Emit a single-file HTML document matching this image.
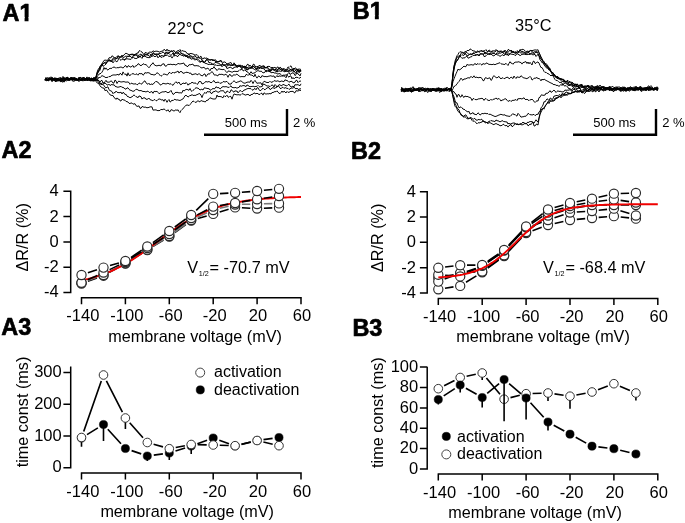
<!DOCTYPE html>
<html lang="en">
<head>
<meta charset="utf-8">
<title>Figure</title>
<style>
html,body{margin:0;padding:0;background:#fff;}
body{width:685px;height:523px;overflow:hidden;}
svg{display:block;font-family:"Liberation Sans",Arial,Helvetica,sans-serif;fill:#111;}
svg text{fill:#000;}
</style>
</head>
<body>
<svg width="685" height="523" viewBox="0 0 685 523">
<rect x="0" y="0" width="685" height="523" fill="#fff"/>
<g fill="none" stroke="#000" stroke-width="0.95" stroke-linejoin="round">
<polyline points="45,79.2 46,78.9 47,79.9 48,80.3 49,79.2 50,79.1 51,79.9 52,80.2 53,79.9 54,79.5 55,79.9 56,80 57,78.4 58,78.7 59,77.8 60,77.9 61,77.8 62,78.8 63,78.8 64,79.7 65,79.7 66,78.9 67,77.1 68,78.6 69,79.3 70,79 71,77.8 72,78.3 73,78.3 74,78.4 75,79.5 76,78.3 77,79 78,79.5 79,78.6 80,79.4 81,79.7 82,79.5 83,78.5 84,79.8 85,80.3 86,78.2 87,80.1 88,79.8 89,79.4 90,81.1 91,80.5 92,78.4 93,78.6 94,79.5 95,78.9 96,77.3 97,73.2 98,71 99,69.5 100,66.3 101,65.2 102,63.5 103,62.1 104,60.4 105,60.2 106,60.1 107,60.5 108,60 109,57.8 110,57.7 111,57.9 112,55.7 113,56.6 114,57.2 115,58.2 116,57.5 117,56.3 118,56 119,56.5 120,57.7 121,56.2 122,55.5 123,55.9 124,55 125,53.8 126,53.1 127,53.8 128,54.1 129,54.8 130,54.7 131,54.2 132,54.3 133,54 134,54.8 135,54.3 136,54 137,52.8 138,53.3 139,51 140,50.5 141,51.6 142,52 143,53.3 144,54.9 145,52.7 146,52.5 147,53.4 148,53.3 149,52.4 150,51.9 151,52.4 152,52.1 153,50.8 154,51.4 155,51.7 156,50.8 157,51.6 158,51 159,52.3 160,51.8 161,51.4 162,51.2 163,50.9 164,49.3 165,50 166,51.1 167,49.1 168,50.9 169,50 170,51.7 171,50.8 172,51.6 173,51.1 174,50.3 175,52.2 176,52.5 177,51.1 178,50.7 179,50.5 180,49.5 181,51.5 182,50.4 183,51.1 184,51.1 185,51.5 186,51.8 187,53.6 188,53.7 189,54.3 190,53.6 191,53.4 192,53.8 193,53.9 194,54.6 195,55 196,55 197,54.6 198,55.7 199,57.8 200,56.7 201,56.2 202,58.4 203,59.2 204,57.6 205,58.5 206,58.1 207,58 208,59.7 209,60 210,60 211,59.6 212,60.6 213,60.2 214,60.6 215,59.7 216,60.2 217,62.1 218,61.5 219,61.7 220,61.1 221,61.1 222,61.6 223,62.6 224,61.8 225,62.1 226,62.8 227,64 228,63.5 229,63.3 230,62.8 231,62.5 232,64.8 233,64.9 234,64.1 235,64.5 236,65.2 237,65.6 238,65.5 239,65 240,66.4 241,65.3 242,66.6 243,66.7 244,66.9 245,67.7 246,66.9 247,64.7 248,64.1 249,65.9 250,65.2 251,66.1 252,67.2 253,64.5 254,64.1 255,66.1 256,66.9 257,66.6 258,66.4 259,65.9 260,65.2 261,66.7 262,66.1 263,66 264,67.6 265,67.6 266,67.8 267,66.6 268,66.4 269,66.4 270,66.6 271,67.8 272,67.5 273,68.7 274,69.6 275,70.5 276,68.4 277,69.7 278,69.2 279,68.5 280,67.1 281,67.8 282,69.2 283,68.8 284,68.9 285,69 286,69.9 287,68.8 288,66.9 289,67.5 290,66.5 291,65.8 292,68.1 293,70.2 294,69.1 295,67.9 296,68.2 297,69.4 298,69.3 299,69 300,69.2 301,69.5"/>
<polyline points="45,79.4 46,80.8 47,80.6 48,79.2 49,77.7 50,79.6 51,78.9 52,77.3 53,79.1 54,78.5 55,78.4 56,79.1 57,81 58,80 59,80.5 60,81.6 61,81.6 62,80.4 63,79.2 64,77.9 65,78.4 66,79.5 67,79.6 68,79.5 69,80.1 70,79.4 71,79.6 72,80.6 73,81.1 74,81.3 75,80.6 76,79.9 77,80.7 78,79.2 79,78.3 80,79.9 81,79.9 82,79.7 83,77.9 84,78.8 85,78.8 86,78.2 87,76.9 88,78.6 89,80.1 90,79.5 91,78.6 92,79.2 93,79.4 94,77 95,78.4 96,77.5 97,74.6 98,72.8 99,70.3 100,67.9 101,66.7 102,65.6 103,63.6 104,62.5 105,63.3 106,63.3 107,61.4 108,60.8 109,60.4 110,61.1 111,60.1 112,60.4 113,58.2 114,58.1 115,57.8 116,58.6 117,58.3 118,56.1 119,56.1 120,57.2 121,56.6 122,55.7 123,57.3 124,57.3 125,56.6 126,55.9 127,56.6 128,55.9 129,56.6 130,54.7 131,54.5 132,54.8 133,54.7 134,56 135,55.2 136,54.3 137,55.2 138,55.1 139,55.6 140,54.2 141,54.3 142,55.7 143,56.6 144,56.3 145,54.3 146,54.2 147,55.3 148,54 149,53.3 150,54.3 151,54.7 152,54 153,52.6 154,53.1 155,54.4 156,53.7 157,54.2 158,53.8 159,53.9 160,53.2 161,53.7 162,52.5 163,52.1 164,52.5 165,54.2 166,53.3 167,52.5 168,52.1 169,52.5 170,52.5 171,50.9 172,50.9 173,51.7 174,54.5 175,53.1 176,52 177,52.2 178,53.1 179,51.5 180,51.4 181,53.1 182,53.6 183,54.1 184,54 185,56.2 186,56.6 187,55.9 188,55.4 189,53.9 190,55.9 191,55.8 192,56.6 193,57 194,56.4 195,55.6 196,57.3 197,57.3 198,57.4 199,58.1 200,58.2 201,58 202,60.8 203,60.9 204,61.8 205,62.3 206,60.6 207,58.8 208,59.1 209,59.1 210,60.1 211,60 212,59 213,60.4 214,59.7 215,61.3 216,61.6 217,61.7 218,61.6 219,61.3 220,60.9 221,60.3 222,62.3 223,64.5 224,65.5 225,64.9 226,64.7 227,64 228,65.2 229,64.7 230,64.8 231,65.1 232,65.4 233,65.1 234,65.4 235,64.7 236,65.6 237,67.6 238,66.5 239,66 240,66.6 241,66.9 242,65.5 243,66.1 244,66.8 245,66.6 246,66.9 247,68.1 248,67 249,67.1 250,67.1 251,68.4 252,66.3 253,66.2 254,66.5 255,68.1 256,68.8 257,69 258,66.7 259,67.9 260,67.5 261,66.6 262,67.4 263,66.2 264,65.6 265,67.4 266,67.4 267,68.4 268,69.5 269,70.3 270,70.9 271,68.8 272,67.3 273,67.7 274,67.8 275,67.1 276,68.3 277,67.6 278,66.8 279,69.1 280,68.8 281,69.5 282,70 283,70 284,69.9 285,70.5 286,70.1 287,70 288,69.3 289,68.3 290,69.3 291,69.8 292,69.7 293,69.4 294,72.1 295,71 296,69.5 297,69.5 298,71 299,71 300,70.2 301,70.8"/>
<polyline points="45,79.6 46,80 47,79.7 48,80.6 49,78.5 50,77.1 51,77.4 52,77.1 53,79.2 54,80 55,79.8 56,78 57,78.7 58,80.4 59,79.5 60,79.8 61,81 62,82.2 63,81.6 64,80.6 65,80.5 66,80.1 67,79 68,78.9 69,79.3 70,78.8 71,78.9 72,79.4 73,80.5 74,78.1 75,78.1 76,78.4 77,79.4 78,79.6 79,78.5 80,77.6 81,77.3 82,78.3 83,79.7 84,79.6 85,79.2 86,79.5 87,80.2 88,80 89,78.5 90,78.9 91,77.7 92,78.6 93,80.2 94,77.8 95,79.4 96,77 97,72.5 98,69.7 99,68.2 100,67 101,65.3 102,63.9 103,64 104,63.1 105,62.3 106,62.1 107,62.5 108,61.4 109,60.4 110,61 111,61.4 112,61.4 113,60.6 114,59.2 115,58.9 116,59.3 117,57.8 118,58.3 119,57.9 120,57.6 121,56.5 122,57.4 123,58.6 124,59.6 125,59.4 126,58.2 127,57.3 128,56.1 129,56.5 130,56.1 131,57 132,57.8 133,56.3 134,54.7 135,55.2 136,54.9 137,55.6 138,57.7 139,57.2 140,56 141,57.4 142,58.4 143,56.4 144,55.9 145,56.2 146,56.9 147,57.4 148,57.5 149,57.7 150,57.5 151,56.9 152,55.6 153,53.5 154,54.1 155,54.7 156,54.3 157,54.9 158,54.4 159,54.5 160,56.4 161,55.9 162,55.3 163,56.2 164,56 165,54.2 166,51.9 167,53.6 168,53.6 169,53.4 170,54.5 171,55.5 172,54.2 173,53 174,55.5 175,53.9 176,52.8 177,53.9 178,53.8 179,53.2 180,54.3 181,53.3 182,53.5 183,54.6 184,55.6 185,55.1 186,55 187,55.9 188,57.6 189,56 190,57.4 191,56.6 192,57.1 193,58.4 194,59.3 195,60.2 196,59.3 197,58.7 198,59.2 199,60.4 200,61.2 201,61.7 202,61.3 203,62.2 204,62.6 205,61.6 206,60 207,59.9 208,60.4 209,62.9 210,62.2 211,63.2 212,63.3 213,64.5 214,63.8 215,62.5 216,62.5 217,62.8 218,63.2 219,63.1 220,64.4 221,65.7 222,64 223,65.3 224,64.8 225,65.7 226,66.4 227,65.9 228,65.7 229,64.3 230,65.7 231,64.9 232,65.6 233,65.1 234,62.8 235,64.1 236,66.1 237,67.3 238,66.4 239,66.2 240,65.5 241,67.8 242,68.7 243,67.2 244,66.6 245,66 246,68.5 247,70.3 248,68.9 249,69.3 250,68.3 251,66.9 252,68.1 253,66.5 254,66.8 255,67.2 256,68.4 257,68.2 258,68.2 259,67.5 260,67.1 261,68.3 262,68.2 263,67.9 264,67.8 265,68.2 266,67.3 267,67.6 268,67.6 269,69 270,70 271,71.1 272,68.7 273,69.1 274,70 275,69.4 276,69.5 277,71.1 278,69.6 279,68.4 280,68.6 281,70.2 282,70.4 283,68.7 284,69.5 285,71.1 286,71.7 287,71 288,71.9 289,71.4 290,69.2 291,70.1 292,70.5 293,69.1 294,68 295,69.7 296,71.1 297,71.3 298,69.2 299,72.4 300,70.1 301,71.2"/>
<polyline points="45,77.7 46,78.2 47,77.7 48,77.9 49,78.5 50,79.4 51,80.1 52,80.2 53,78.9 54,78.4 55,78.7 56,79.5 57,78.5 58,80.5 59,79.7 60,79.5 61,80.5 62,80.8 63,80.4 64,80.4 65,80.2 66,81.1 67,80.6 68,79.9 69,80.7 70,79.6 71,78.4 72,77.5 73,78.6 74,79.3 75,77.9 76,79.5 77,79.7 78,79.1 79,77 80,78.4 81,79.4 82,78 83,78.1 84,77 85,79.1 86,79 87,79.2 88,78.3 89,80 90,79.8 91,79.9 92,78.4 93,79.3 94,81.3 95,79.1 96,77 97,74.3 98,71.8 99,71.5 100,70.1 101,66.4 102,64.5 103,66.3 104,65.8 105,64.8 106,64.1 107,62.3 108,61.2 109,59.8 110,59.9 111,61.6 112,61.2 113,62.9 114,61.5 115,60.4 116,61.3 117,61.9 118,60.1 119,58.4 120,59.5 121,60.4 122,59.2 123,59.1 124,60.3 125,59.8 126,58.9 127,58.8 128,58.9 129,59.2 130,59.2 131,59.4 132,58.4 133,56.7 134,57.9 135,58.6 136,58.3 137,58.6 138,57.1 139,56.4 140,57.2 141,55.3 142,54.5 143,56.8 144,55.9 145,55.7 146,54.4 147,55 148,54.9 149,56 150,56.5 151,55 152,56.7 153,55.4 154,56.1 155,56.9 156,56 157,55.5 158,57.9 159,56.5 160,56.4 161,57 162,57.5 163,56.5 164,56.8 165,55 166,56 167,54.6 168,55.6 169,56.8 170,55.9 171,56.3 172,58.1 173,56.6 174,55.3 175,56.2 176,55.1 177,56.6 178,56.4 179,54.7 180,54.4 181,55 182,55.5 183,55.5 184,56.4 185,55.1 186,56.1 187,57.1 188,57.6 189,58 190,57.6 191,59.1 192,59.1 193,58.3 194,57.9 195,58.4 196,59.5 197,59.5 198,60.7 199,61.7 200,62.1 201,62.1 202,61 203,60.9 204,62.4 205,63.1 206,63.6 207,63.6 208,64.5 209,64.4 210,64.2 211,64.5 212,64.4 213,64.4 214,64.8 215,65.3 216,64.7 217,65.8 218,65.1 219,65.6 220,65 221,64.8 222,66.8 223,65.4 224,64.6 225,65.3 226,66.4 227,68.7 228,67.9 229,67.9 230,67 231,67.5 232,68.3 233,68.9 234,67.1 235,67.5 236,66.6 237,66 238,66.3 239,66.2 240,64.8 241,67.5 242,68.3 243,67.4 244,67.1 245,69 246,68.8 247,68.9 248,69.1 249,67.9 250,68.4 251,68 252,68.1 253,68.3 254,69.1 255,70.1 256,69.7 257,69.1 258,69 259,69 260,68 261,67.9 262,68.4 263,68.4 264,69 265,69.9 266,71.7 267,71.6 268,70.5 269,70.7 270,72 271,70.3 272,69.6 273,69.7 274,70.2 275,71.3 276,70.8 277,72.2 278,70.8 279,71.4 280,70.6 281,71.8 282,70.6 283,70.9 284,71.5 285,71.8 286,70.2 287,70.2 288,69.9 289,70.8 290,71.3 291,71 292,70.9 293,70.7 294,71 295,72.6 296,73.2 297,70.9 298,71.4 299,72.1 300,72.1 301,70.6"/>
<polyline points="45,79.2 46,79.7 47,80.1 48,78.7 49,80.2 50,79.4 51,78.8 52,79.5 53,78.8 54,78.3 55,77.7 56,78.5 57,80.7 58,81.3 59,80.4 60,80.3 61,78.9 62,78.8 63,79.4 64,78.5 65,78.5 66,79.5 67,79.2 68,78.8 69,79.7 70,79.3 71,80.1 72,79.2 73,79.2 74,79.8 75,79.4 76,79.5 77,79.9 78,81 79,81.2 80,80.9 81,79.2 82,79.5 83,79.6 84,80.2 85,79.5 86,79.4 87,79.3 88,79 89,78.6 90,80.3 91,80.5 92,79.7 93,80.9 94,80.2 95,80.9 96,79 97,76.9 98,75.5 99,74.1 100,73.8 101,73.2 102,72.2 103,70.3 104,67.5 105,69.3 106,67.9 107,69.6 108,70.1 109,69 110,68.2 111,68.5 112,68.2 113,67.2 114,67.2 115,67.2 116,68.3 117,67.3 118,68 119,67.4 120,67.3 121,66.9 122,67.5 123,68 124,67.2 125,65.7 126,65.8 127,67.5 128,65.9 129,65.8 130,67 131,67 132,66.2 133,65.5 134,67.5 135,66.3 136,65.9 137,65.4 138,63.8 139,63.9 140,65.4 141,65.5 142,65.1 143,64 144,63.8 145,64.9 146,64.3 147,65.8 148,66.8 149,67.8 150,66.4 151,64.7 152,64.2 153,62.7 154,64.5 155,65.2 156,65.8 157,65.8 158,65.5 159,65.3 160,65.5 161,66 162,64.2 163,64.1 164,63.7 165,66 166,66.2 167,65.5 168,64.1 169,64.7 170,64.2 171,64.3 172,64.6 173,64.7 174,64.1 175,64.9 176,64.9 177,64.3 178,63.5 179,63.6 180,64.2 181,63.5 182,63.8 183,63.1 184,63.2 185,65.4 186,65.1 187,66.7 188,66.3 189,64.7 190,64.8 191,64.7 192,64.3 193,64.1 194,65.9 195,65.6 196,65.9 197,65.4 198,66.2 199,65.8 200,66.8 201,67.9 202,67.8 203,67.7 204,67.1 205,68.7 206,69.1 207,68.4 208,68.1 209,69.5 210,70.9 211,68.5 212,68.6 213,68.4 214,66.6 215,68.5 216,68.9 217,70.6 218,69.3 219,68.6 220,69.3 221,69.3 222,69.6 223,69.6 224,69.3 225,70.3 226,71.7 227,72.7 228,71.2 229,71 230,71.5 231,71.7 232,72.3 233,71.8 234,71.2 235,71.4 236,71.4 237,71.5 238,71.4 239,70.6 240,69.5 241,70.1 242,69.1 243,70.8 244,70.7 245,69.6 246,71.2 247,71.8 248,72.2 249,73.7 250,73.5 251,71.7 252,73.3 253,73.4 254,72.9 255,72.9 256,71.5 257,70.9 258,70.7 259,70.9 260,71.5 261,71 262,71.7 263,73 264,72.5 265,72.2 266,70.2 267,70.7 268,71.1 269,71.5 270,71.7 271,72.8 272,72.5 273,72.4 274,72.7 275,73.3 276,72.8 277,73.9 278,74 279,73.6 280,73.7 281,74.5 282,75.6 283,75.3 284,75 285,75.4 286,74.7 287,75 288,73.6 289,72.5 290,74.4 291,74 292,72.8 293,73.1 294,73.3 295,75.6 296,74.7 297,72.5 298,74.2 299,74.5 300,76 301,73.3"/>
<polyline points="45,80.5 46,79.3 47,78.5 48,79.2 49,78.3 50,78.8 51,78.7 52,81.8 53,80.6 54,79 55,78.8 56,79.2 57,78.7 58,78.7 59,78.8 60,80.1 61,79.1 62,78.3 63,77.7 64,78.2 65,79.5 66,79.4 67,79.9 68,79.4 69,80.5 70,80 71,79 72,77.2 73,78.2 74,79.9 75,80.5 76,79.8 77,80.1 78,79.1 79,79 80,79 81,80.7 82,80.2 83,79.6 84,80 85,80.4 86,79.8 87,78.5 88,80.4 89,79.7 90,79.3 91,80.7 92,80.8 93,80.2 94,80.2 95,78.9 96,78.5 97,77.4 98,78.9 99,77 100,77.9 101,76.5 102,75.6 103,76.1 104,76.5 105,77.1 106,77.8 107,77.2 108,77.4 109,76.4 110,76.8 111,75.9 112,75.3 113,75 114,74.9 115,75 116,75 117,74.6 118,74.4 119,75.2 120,73.4 121,73.8 122,75.2 123,71.9 124,73.5 125,74.7 126,73.8 127,76.1 128,72.8 129,75.3 130,75.4 131,74.7 132,73.6 133,74 134,73.7 135,74.8 136,73.8 137,74.2 138,75.2 139,73.5 140,73.6 141,73.8 142,73.5 143,75.2 144,74.4 145,72.5 146,73.1 147,72.9 148,72.5 149,73 150,73.2 151,74.8 152,74.1 153,75 154,74.7 155,75 156,73.7 157,72.8 158,73.1 159,74.4 160,75.2 161,76.2 162,75.6 163,74.6 164,73.8 165,74.4 166,74.4 167,75.2 168,74.4 169,72.6 170,72.5 171,73.7 172,73 173,72.2 174,73.2 175,72.3 176,72.3 177,71.7 178,71 179,73.1 180,71.7 181,71.5 182,71.8 183,73.4 184,73 185,72.9 186,71.9 187,72.8 188,72.1 189,73.3 190,73.1 191,73.2 192,75 193,74.3 194,74.3 195,73.8 196,73.8 197,74.6 198,74.7 199,73.4 200,74.7 201,75.3 202,75.8 203,75.6 204,74 205,74 206,76.6 207,75.2 208,73.7 209,74.2 210,73.7 211,72.3 212,71.7 213,72.6 214,74.8 215,75.1 216,74.8 217,75.6 218,75.8 219,74.1 220,74.5 221,74.3 222,74.3 223,74.6 224,75.2 225,74.6 226,74.2 227,75.3 228,77.3 229,75 230,74.2 231,76 232,76.2 233,75.8 234,74.4 235,75.5 236,74.3 237,74.2 238,75.1 239,75.8 240,76.7 241,76.8 242,76.4 243,76.8 244,76.5 245,76.7 246,74.5 247,74.4 248,75.5 249,74.3 250,74.8 251,75 252,75.1 253,75.9 254,76.8 255,74.2 256,76.6 257,78.1 258,76.4 259,75.9 260,77.3 261,77.6 262,75.5 263,76.2 264,76.4 265,76.8 266,76.3 267,77 268,76.2 269,76.3 270,75.8 271,75.8 272,76.3 273,76.2 274,75.9 275,77.9 276,76.7 277,75.5 278,77 279,75.7 280,76.4 281,76 282,76 283,76.1 284,75.8 285,76.4 286,77.8 287,75.1 288,76.5 289,77.2 290,75.8 291,76.2 292,78.8 293,77.5 294,78.9 295,77.9 296,77.1 297,77.5 298,77.4 299,78.5 300,77.7 301,77.2"/>
<polyline points="45,80.3 46,79.7 47,79.8 48,79.9 49,79.2 50,80.1 51,79.3 52,80.6 53,80.3 54,80.2 55,80 56,80.2 57,79.5 58,80.4 59,80.2 60,80.7 61,80.6 62,80.6 63,78 64,78.7 65,77.4 66,78.9 67,77 68,77.7 69,78.2 70,80.4 71,79.3 72,79.6 73,79 74,77.1 75,78.5 76,79.6 77,79 78,79.8 79,79.2 80,79.7 81,79.4 82,79.9 83,81.2 84,80.2 85,79.6 86,78.6 87,78.4 88,80.2 89,78.4 90,78.4 91,79 92,79.6 93,81.4 94,78.6 95,80.5 96,80.7 97,79.3 98,79.8 99,81.1 100,82.2 101,80.6 102,80.4 103,82.9 104,83.7 105,81.7 106,80.3 107,82.2 108,81.9 109,82.4 110,81.6 111,80.9 112,81.4 113,83.2 114,82.9 115,80 116,80.8 117,83.5 118,81.7 119,81 120,81.8 121,81.9 122,82 123,81.6 124,81.7 125,81.9 126,82.3 127,81.9 128,82.1 129,82.5 130,84.3 131,83.3 132,83.2 133,84.1 134,83.8 135,84.1 136,83.7 137,84.8 138,84.4 139,83.1 140,83.2 141,84.3 142,83.5 143,82.8 144,81.2 145,80.9 146,82.9 147,83.7 148,84.3 149,83.2 150,84.9 151,83.9 152,84.3 153,84.4 154,83 155,82.3 156,81.2 157,82 158,82.1 159,83.8 160,84.4 161,85.2 162,84.1 163,83.2 164,83.6 165,83.7 166,84 167,83.6 168,83.1 169,84 170,84.1 171,83.7 172,84.7 173,85.4 174,83.9 175,82.7 176,81.7 177,83.1 178,83.1 179,82 180,84.2 181,85 182,83.5 183,83.5 184,82.9 185,84 186,82.4 187,83.4 188,85.2 189,83.7 190,84.1 191,83.1 192,82.2 193,82.8 194,83.3 195,82.9 196,83.3 197,84.4 198,83.8 199,81.5 200,81.6 201,81.7 202,84 203,83.5 204,83.3 205,82.1 206,81.4 207,82 208,81.9 209,81.4 210,82.2 211,82.7 212,82.4 213,81.2 214,80.5 215,82.4 216,82.8 217,82.3 218,82.2 219,82.4 220,83.5 221,82.9 222,82.8 223,81.7 224,81.5 225,82.2 226,81.5 227,81.5 228,82.7 229,84.3 230,83.8 231,84.2 232,82.7 233,81.6 234,80.8 235,81.5 236,82.9 237,82.2 238,81.9 239,81.7 240,81 241,80.9 242,81.7 243,82.6 244,83.1 245,83.2 246,82.8 247,82.1 248,82.2 249,81.9 250,82.3 251,80.3 252,81.5 253,83.6 254,81.5 255,80.4 256,82 257,83.5 258,82.8 259,83.2 260,82.8 261,82.9 262,85.1 263,82.7 264,81.3 265,81.5 266,82.3 267,82.4 268,82.6 269,82.3 270,81.3 271,82.4 272,82 273,81.8 274,80.7 275,80.8 276,81.3 277,81.1 278,80.7 279,81.6 280,81.8 281,81.1 282,81 283,81.5 284,81.6 285,79.7 286,80.5 287,80.4 288,81.2 289,82.3 290,81.5 291,81.5 292,81.3 293,82.9 294,82.6 295,82.2 296,80.3 297,80.4 298,82.6 299,81.5 300,81 301,81.2"/>
<polyline points="45,80.1 46,78 47,79.2 48,80.9 49,79.3 50,79.2 51,79.5 52,78.4 53,79.3 54,80.4 55,79.7 56,79.4 57,78.3 58,78.7 59,78.6 60,79 61,78.7 62,77.7 63,76.4 64,79 65,79.8 66,78.4 67,77.3 68,77.8 69,79.5 70,77.8 71,77.7 72,79 73,79.3 74,78.5 75,78.2 76,78.5 77,80.3 78,80 79,78.8 80,77.6 81,78.2 82,79.2 83,78.5 84,79.5 85,79.8 86,79.9 87,80.2 88,80.2 89,79.2 90,79.6 91,80.7 92,78.5 93,78.9 94,79.8 95,79.1 96,79 97,79.8 98,81.6 99,82.9 100,83.5 101,83.2 102,83.6 103,82.3 104,83.3 105,83 106,83.9 107,84.7 108,85.2 109,84.1 110,85.6 111,84.9 112,84.3 113,85.2 114,84.6 115,86.2 116,86.7 117,86.9 118,87.4 119,86.8 120,86.9 121,86.2 122,87.5 123,87.2 124,88.1 125,88.8 126,89.2 127,87.9 128,87.9 129,89.3 130,90.2 131,90.3 132,90.9 133,91.4 134,91 135,90.4 136,89.2 137,89.4 138,89.9 139,90.7 140,90.6 141,90.5 142,91 143,91.6 144,91.4 145,91.6 146,92 147,91.4 148,91.1 149,92.3 150,92.6 151,91.7 152,91.7 153,93.3 154,91.3 155,91.5 156,91.7 157,91.2 158,92.4 159,93.7 160,93.1 161,92.4 162,92.1 163,91.7 164,92.1 165,91.5 166,91.5 167,92.3 168,92.8 169,92.2 170,91.7 171,90.4 172,92.6 173,94.4 174,94.1 175,92.7 176,92.3 177,92.5 178,92.3 179,93.2 180,92.5 181,93.1 182,92.8 183,90.2 184,91.1 185,90.2 186,89.4 187,89.4 188,89.8 189,90.3 190,88.5 191,90.7 192,91.4 193,90.3 194,89.7 195,88.5 196,87.7 197,88 198,88.2 199,88.9 200,90.1 201,89.4 202,89.2 203,90.1 204,88.1 205,87.7 206,88.4 207,88.2 208,88.8 209,88.5 210,90 211,90.2 212,89.1 213,88.4 214,88.9 215,88.5 216,86.7 217,87.6 218,87.7 219,87.6 220,89 221,88.3 222,86.9 223,86.8 224,86.5 225,87.1 226,86.3 227,87.2 228,87.1 229,87.6 230,86.5 231,85.8 232,87.6 233,87.3 234,88 235,87.4 236,87.6 237,88.3 238,87.5 239,87.5 240,85.5 241,86.4 242,85.9 243,85.6 244,85.6 245,85.9 246,86.7 247,84.8 248,85.7 249,85.9 250,87 251,86.3 252,86.7 253,86 254,86.7 255,86.7 256,86.3 257,86.4 258,85.4 259,86.4 260,87.3 261,86.4 262,86.8 263,84.5 264,84 265,84.8 266,85.3 267,86.1 268,85.9 269,86 270,86.7 271,85.6 272,85 273,85.3 274,87.2 275,84.5 276,85.5 277,87 278,86 279,84.6 280,84.9 281,85.6 282,85.7 283,84.2 284,85 285,85 286,85.9 287,85.8 288,84.8 289,84.1 290,86 291,87.2 292,86.6 293,86.1 294,86.9 295,84.5 296,85.1 297,84.6 298,84.8 299,85.1 300,85.8 301,83.8"/>
<polyline points="45,79.9 46,78.8 47,79.1 48,80.9 49,80.6 50,79.4 51,79.4 52,79.9 53,77.9 54,79.1 55,81.5 56,81.5 57,79.8 58,80.6 59,79.6 60,78.5 61,77.9 62,80.7 63,80.8 64,82.2 65,80.7 66,79.8 67,78.3 68,80.3 69,79.2 70,79 71,77.7 72,79.8 73,80.1 74,78.8 75,79.2 76,79.3 77,79.6 78,80.1 79,80.9 80,79.5 81,78.7 82,78.2 83,77.2 84,77.8 85,79.5 86,78.9 87,78.1 88,78.8 89,77 90,78.7 91,80.3 92,80.2 93,79.3 94,80.3 95,80.9 96,80.1 97,81 98,80.2 99,80.6 100,83.8 101,84.3 102,84.7 103,84.5 104,85.3 105,87.2 106,88.1 107,87 108,86.9 109,89.7 110,90.6 111,90.9 112,91.6 113,93.7 114,92.5 115,92.8 116,91.1 117,92.2 118,92.6 119,92.6 120,92.7 121,92.1 122,94 123,92.3 124,92.9 125,94.6 126,94.2 127,96.1 128,96.8 129,96.8 130,98 131,97.1 132,97 133,95.7 134,94.9 135,95.7 136,96.7 137,96.9 138,97.8 139,95.9 140,96.3 141,96.7 142,99.1 143,97.9 144,98 145,97.8 146,99.4 147,99.1 148,99.1 149,98.1 150,99.7 151,99.9 152,100.4 153,100.8 154,99.6 155,99.7 156,100.7 157,100.7 158,99.4 159,99.1 160,98.9 161,99.8 162,100 163,99.7 164,101.3 165,99.2 166,100.3 167,102.3 168,100.5 169,99.5 170,102 171,101.6 172,100 173,100.8 174,99.6 175,99.2 176,100.1 177,99.9 178,99.9 179,100.4 180,100.4 181,100.1 182,99.3 183,99 184,97.4 185,95.7 186,95.3 187,96 188,97 189,96.5 190,95.2 191,95.8 192,94.4 193,95.7 194,95.2 195,95.5 196,95.2 197,94.5 198,94.4 199,93.5 200,93.8 201,95.2 202,97.6 203,94.8 204,93.3 205,92.4 206,93.5 207,91.8 208,91.5 209,92.2 210,91.4 211,93.4 212,93.5 213,91.7 214,91.9 215,91.1 216,90.8 217,91.7 218,92.2 219,92.1 220,91.2 221,90.6 222,91 223,90.5 224,91.3 225,93.1 226,92.9 227,91 228,91.4 229,92.5 230,92.5 231,89.8 232,90.2 233,91.7 234,92.1 235,90.6 236,91.4 237,90.9 238,92.9 239,91.5 240,90.6 241,90.8 242,91.8 243,91.4 244,89.9 245,90.1 246,89.2 247,88.9 248,88.4 249,88.5 250,88.6 251,88.7 252,89.7 253,90.3 254,89 255,88.4 256,89.8 257,87.9 258,87.6 259,89.8 260,90.6 261,90.4 262,89.1 263,88.2 264,89.2 265,89.9 266,88.6 267,88.2 268,87.4 269,87.8 270,89.5 271,89.2 272,87.8 273,87.8 274,88.1 275,88.5 276,87.1 277,87.3 278,85.8 279,86.4 280,88.2 281,88.8 282,87.4 283,87.3 284,88.5 285,87.6 286,87.9 287,88.5 288,88.4 289,89.4 290,89 291,88 292,88.1 293,88.1 294,87.3 295,88 296,89.1 297,88 298,89.4 299,89.4 300,88.6 301,89"/>
<polyline points="45,79.8 46,78.5 47,80.2 48,80.4 49,80.2 50,78.7 51,78.4 52,78.6 53,79.2 54,79.4 55,79.9 56,81.6 57,80.8 58,79.1 59,79.2 60,80.5 61,79.2 62,80.4 63,81 64,79 65,78.8 66,79.2 67,78.5 68,78.4 69,78.6 70,79.3 71,78.7 72,78.6 73,78.4 74,77.9 75,80.2 76,78.1 77,79 78,79.6 79,78.5 80,80 81,80.1 82,78.9 83,79.3 84,79.3 85,80.4 86,80 87,80.2 88,80.4 89,79.7 90,79.9 91,79.2 92,78.4 93,79.5 94,79.8 95,78.9 96,81.7 97,82.6 98,83.3 99,83.9 100,85.8 101,87 102,87.5 103,88.2 104,88 105,90.7 106,90.1 107,90.4 108,92.3 109,93.3 110,94.9 111,95.1 112,95.6 113,95.5 114,97.5 115,98.1 116,99.4 117,97.9 118,99.3 119,99 120,100.8 121,101 122,99.2 123,99.8 124,100 125,100.2 126,101.5 127,101.6 128,102 129,103.3 130,103.6 131,102.9 132,103.1 133,104.2 134,103.9 135,103.7 136,105.7 137,106.2 138,106.4 139,105.8 140,108.2 141,108.3 142,106.6 143,106.6 144,107.5 145,106.9 146,107.4 147,107.8 148,107.5 149,107.5 150,106.7 151,107 152,106.8 153,110.2 154,109.9 155,110 156,109.8 157,110.4 158,110.7 159,110.5 160,110.5 161,109.2 162,109.8 163,109.4 164,109 165,109.5 166,110.7 167,110.9 168,109.7 169,111.5 170,111.8 171,109.7 172,109.9 173,110.5 174,111.1 175,110.4 176,109.7 177,110.6 178,109.7 179,111.6 180,112.7 181,110.5 182,109.5 183,108.6 184,107.7 185,106.2 186,105.2 187,105.1 188,105 189,105.7 190,104.7 191,103.3 192,102 193,101 194,101.4 195,102.4 196,102.2 197,101.8 198,100.5 199,101.8 200,101.6 201,100.7 202,100.7 203,101.6 204,101.1 205,102.2 206,101 207,100.1 208,100.3 209,98.9 210,97.7 211,98.3 212,98.5 213,99.1 214,98.9 215,99.1 216,98.5 217,95 218,96.9 219,96.2 220,96.8 221,96.4 222,97.3 223,97.8 224,95.6 225,96.6 226,96.3 227,95.2 228,97.1 229,97.2 230,96.2 231,96.6 232,99.2 233,96.1 234,94 235,94.2 236,94.8 237,94.7 238,94.9 239,94.5 240,95.3 241,94.6 242,93.6 243,94 244,94.2 245,95.1 246,95 247,94.4 248,94.5 249,94.8 250,96 251,94.4 252,94.6 253,94 254,92.8 255,93.5 256,93.9 257,93.1 258,93.9 259,94.4 260,94.4 261,93.3 262,93.3 263,95.1 264,92.8 265,93.5 266,94.3 267,93.6 268,94 269,93.7 270,93.5 271,94 272,92.4 273,92.6 274,92 275,91.5 276,91.8 277,90.8 278,92.2 279,93.1 280,93.7 281,92.5 282,91 283,92.4 284,91.1 285,92 286,93 287,91.4 288,92.4 289,92.2 290,91.8 291,91.2 292,91.7 293,91.1 294,92.7 295,92.8 296,90.7 297,90.9 298,91 299,90.5 300,90 301,90.8"/>
<polyline points="401,89.5 402,90.7 403,91.8 404,91.5 405,91.4 406,90.9 407,90.8 408,90.7 409,89.9 410,89.4 411,89.9 412,91.6 413,90.4 414,89.9 415,89.9 416,90.3 417,90.3 418,89 419,88 420,89.6 421,88.3 422,89.7 423,90.1 424,91.2 425,92 426,90.3 427,89.7 428,88.9 429,89.3 430,89.5 431,88.4 432,90.2 433,90.5 434,90.5 435,89.7 436,89.8 437,89.4 438,89.1 439,88.3 440,90.5 441,91.9 442,91 443,90.3 444,89.3 445,90.9 446,89.6 447,90.4 448,89.6 449,89 450,90.9 451,90.1 452,83.2 453,73.6 454,66.5 455,61.2 456,58.3 457,55.7 458,54.5 459,52.6 460,51.6 461,52.1 462,52.1 463,52.5 464,53.1 465,51.3 466,51.9 467,50.5 468,50.5 469,50.6 470,49 471,49.2 472,50.4 473,50.7 474,51.1 475,51 476,53 477,51.3 478,50.8 479,52.4 480,51.6 481,50.6 482,51.4 483,50.9 484,50.9 485,50.6 486,49.6 487,51.5 488,51.3 489,50 490,50.5 491,51.7 492,51.1 493,50.7 494,51 495,50.9 496,49.5 497,50.9 498,51.6 499,51.9 500,52.2 501,50.8 502,51.6 503,52 504,50.7 505,52.4 506,52.4 507,52 508,52.3 509,51.5 510,50.4 511,51.6 512,51.5 513,51.4 514,51.5 515,52.5 516,51.6 517,50.6 518,51.5 519,51.5 520,50.1 521,49.8 522,49.7 523,49.1 524,50.1 525,50.6 526,51.8 527,51.1 528,51.2 529,51.6 530,51.4 531,50.4 532,50.6 533,50.4 534,50.1 535,49.9 536,50 537,50.2 538,49.7 539,52.8 540,54.8 541,56.8 542,58.6 543,60.7 544,61.7 545,63.5 546,63.8 547,64.4 548,66.2 549,69.6 550,68.6 551,71.3 552,72.9 553,72.7 554,75.2 555,76.6 556,77 557,78.6 558,78.2 559,77.8 560,79.3 561,79.2 562,78.8 563,80 564,82.4 565,81.1 566,81.4 567,81.7 568,82.4 569,82.3 570,83 571,82.5 572,82.1 573,82.9 574,84.5 575,86.3 576,85.8 577,86.7 578,86.2 579,85.4 580,84.8 581,85.1 582,84.3 583,85.9 584,87.8 585,87.6 586,87.9 587,86.9 588,86.5 589,86.6 590,87.5 591,89.2 592,89.6 593,87.2 594,86.5 595,87.2 596,86.7 597,85.9 598,87.5 599,88.4 600,88.5 601,87.1 602,87.8 603,87 604,88.9 605,87.8 606,87.9 607,88.1 608,87.8 609,87 610,86.7 611,89.1 612,88.5 613,88.6 614,89.5 615,88.6 616,88.6 617,89.1 618,90.1 619,89.3 620,88.9 621,88.2 622,88.8 623,88.7 624,86.7 625,88 626,88.4 627,88.4 628,87.4 629,89.2 630,88.5 631,88.8 632,88.3 633,87.1 634,87.5 635,86.7 636,86.7 637,87.2 638,87.8 639,88.1 640,88.3 641,90.2 642,89.7 643,88.1 644,88.5 645,89 646,89.4 647,89.2 648,88.9 649,90.7 650,89.3 651,88.4 652,88.4 653,88.2 654,89.8 655,89.5 656,89.3 657,86.7 658,89.1"/>
<polyline points="401,88.2 402,88.5 403,90 404,89.2 405,89.8 406,89.7 407,89.2 408,89 409,90.5 410,90.8 411,91.9 412,92.1 413,90.9 414,90.6 415,90.1 416,90.2 417,89.6 418,89.6 419,91 420,88.7 421,89.6 422,90.1 423,89.5 424,88.8 425,89.4 426,89.5 427,89.4 428,89.8 429,90.1 430,90 431,90.5 432,88.9 433,89.8 434,89.5 435,89.9 436,90 437,89.9 438,89 439,88.6 440,88.8 441,89.7 442,90.7 443,90.7 444,89.6 445,89.4 446,88.2 447,87.3 448,88.2 449,88.9 450,88.2 451,88.6 452,83.3 453,73.1 454,65.9 455,64.2 456,60 457,57.1 458,56.8 459,55.4 460,56.1 461,53.3 462,52.5 463,53.2 464,53.3 465,54.2 466,52.2 467,52.4 468,53.8 469,54.4 470,54.2 471,53.7 472,54.4 473,52.9 474,52.8 475,53.3 476,52.3 477,52 478,51.9 479,51.4 480,51 481,50.9 482,50.6 483,52 484,51.2 485,53.8 486,53.6 487,52.8 488,51.3 489,51 490,52.3 491,51.7 492,52.1 493,51.7 494,52.7 495,51.5 496,51.3 497,50.3 498,51 499,51.6 500,50.9 501,51.3 502,52.4 503,52.1 504,52.2 505,50 506,51.8 507,51.8 508,49.6 509,49.6 510,51 511,50.2 512,50.8 513,52.1 514,52.2 515,52.4 516,52.1 517,52.7 518,53.2 519,51.7 520,49.6 521,51.7 522,51.7 523,51.2 524,52.7 525,51.9 526,53.8 527,52.6 528,53.2 529,51.9 530,50.2 531,50.7 532,51.6 533,52.1 534,52.5 535,51.2 536,52.2 537,52.5 538,51.5 539,52.6 540,54.9 541,58.1 542,60.1 543,60.7 544,62 545,64.8 546,64.8 547,67.2 548,67 549,67.2 550,69.7 551,71.5 552,74 553,75.7 554,75.5 555,76.6 556,77 557,76.3 558,76.7 559,78.7 560,78 561,79 562,79.2 563,79.3 564,79.5 565,81.4 566,82.2 567,80.6 568,80.4 569,81.7 570,81.3 571,82.3 572,84.7 573,86.5 574,85 575,84.4 576,85.5 577,83.9 578,85.5 579,87.4 580,87.3 581,85.3 582,84.9 583,86.8 584,86.2 585,85.9 586,86.4 587,85.8 588,85.2 589,87.2 590,86.3 591,85.9 592,86.2 593,87.3 594,87.2 595,88 596,87.9 597,88.6 598,87.1 599,86.1 600,85.2 601,86 602,88.7 603,90.1 604,87.2 605,86.9 606,88.1 607,88.2 608,87.1 609,87.5 610,86.3 611,87.7 612,89.4 613,90 614,88.8 615,88.6 616,89.4 617,90.3 618,89 619,88 620,88.3 621,88.7 622,87.2 623,87 624,89 625,89.8 626,90.8 627,90 628,89.4 629,88.9 630,88.5 631,88.2 632,88.4 633,88.6 634,89.3 635,87.5 636,88.1 637,88 638,89.3 639,88.8 640,88.4 641,89.2 642,88.6 643,88.6 644,89.9 645,89.5 646,90.2 647,89.4 648,88.9 649,87.9 650,87.2 651,88.7 652,88.4 653,88.9 654,88.1 655,87.5 656,88.1 657,89 658,89.7"/>
<polyline points="401,89.1 402,90.7 403,89.9 404,90.6 405,91 406,91.5 407,89.4 408,91.8 409,90 410,88.7 411,89.7 412,90.8 413,89.4 414,87.8 415,88.9 416,90.3 417,88.3 418,89.2 419,90.1 420,91.9 421,90.5 422,91 423,89.6 424,89.2 425,90.7 426,90.4 427,88.4 428,90.4 429,90.3 430,89.8 431,90.1 432,89.8 433,89.2 434,88.6 435,88.8 436,88.6 437,88 438,88.6 439,88.1 440,89.2 441,88.8 442,88.5 443,89.8 444,90.7 445,89.8 446,87.8 447,89.9 448,89.3 449,89.3 450,89.7 451,90.7 452,86 453,76.2 454,69 455,64.3 456,61.7 457,60.7 458,59.8 459,56.5 460,56.3 461,55.6 462,54.6 463,55.3 464,55.3 465,53.8 466,54.1 467,55.9 468,55.4 469,55.1 470,54.1 471,54.3 472,54.9 473,53.6 474,53.3 475,54.4 476,55.2 477,54.2 478,55 479,55 480,53.6 481,54 482,53.7 483,54.1 484,54.2 485,52.7 486,52.4 487,53.9 488,54 489,53.6 490,53.5 491,53.8 492,52.7 493,54 494,53 495,54.2 496,54.5 497,52.6 498,53.5 499,53.1 500,53.2 501,53 502,52.3 503,52.5 504,54 505,54.2 506,52.8 507,53.1 508,55.6 509,55.1 510,53.8 511,52.5 512,52.3 513,52.5 514,52.2 515,53.7 516,52.9 517,52.2 518,51.7 519,51.7 520,52.4 521,53.2 522,52.7 523,53.1 524,53 525,53.2 526,53.4 527,52.1 528,51.6 529,52.5 530,54.3 531,53 532,53 533,53.1 534,53.4 535,53.2 536,51.7 537,51.9 538,53.6 539,55.6 540,57.6 541,59 542,60 543,62.1 544,63.8 545,63.8 546,65.7 547,65.7 548,67.8 549,68.8 550,70 551,72.3 552,72.3 553,73.4 554,74.3 555,74.9 556,77.3 557,77.2 558,77.9 559,77.6 560,78.9 561,79.3 562,79.5 563,79.6 564,80.8 565,82.2 566,81.4 567,81.4 568,82 569,84.6 570,84.7 571,83.9 572,84 573,83.5 574,84.1 575,84.8 576,84.7 577,84.2 578,84.5 579,85.9 580,85.7 581,84.5 582,86.2 583,87.7 584,86.4 585,86.4 586,85.9 587,86.7 588,85.9 589,85.4 590,86.8 591,89.2 592,87.1 593,86.6 594,87.8 595,88.4 596,88.8 597,86.1 598,85.5 599,86.9 600,87.4 601,87.7 602,88.3 603,86.6 604,86.7 605,87.7 606,88.7 607,88.6 608,87.9 609,87.2 610,89 611,89.6 612,90.9 613,88.8 614,88.9 615,87.2 616,87.2 617,87.3 618,87.2 619,86.9 620,87.2 621,87.9 622,87.9 623,88.5 624,88.2 625,88.4 626,89 627,88.4 628,88.3 629,87.9 630,87.8 631,88.4 632,88.4 633,89.9 634,90.5 635,90.2 636,88.8 637,87.8 638,88.4 639,89.3 640,89.7 641,89.2 642,89 643,90.3 644,89 645,89.8 646,89 647,87 648,88 649,87.2 650,86.8 651,85.6 652,86.9 653,88.8 654,88.5 655,88.8 656,88 657,89 658,88.6"/>
<polyline points="401,90.4 402,91.1 403,90.4 404,89.9 405,89.8 406,89.6 407,88.5 408,89.8 409,88.2 410,89.4 411,91.2 412,90.4 413,90.7 414,89.2 415,90.1 416,89.7 417,90.2 418,88.8 419,88.5 420,89.5 421,87.9 422,88.8 423,89.9 424,88.8 425,88.2 426,88.4 427,89.8 428,89.2 429,89.8 430,90.2 431,91.8 432,89.6 433,88 434,89.9 435,90 436,89.4 437,88.8 438,90.8 439,90.2 440,89.3 441,88.2 442,89.9 443,89.8 444,90.4 445,89.1 446,88.3 447,89.4 448,89 449,90 450,89 451,89.8 452,84.2 453,75.2 454,69.1 455,64.5 456,62.3 457,60 458,59.4 459,57.8 460,55.9 461,57.2 462,58.4 463,57.9 464,57.9 465,57.8 466,56.5 467,56.1 468,58.1 469,58 470,57.2 471,56.8 472,56.5 473,55.4 474,55.4 475,55.4 476,55.4 477,54.7 478,54.9 479,56 480,54.9 481,53.4 482,54.6 483,53.6 484,56.5 485,56.5 486,55.8 487,54.7 488,53.9 489,54.5 490,54.5 491,54 492,55 493,55.6 494,56 495,54.7 496,54.1 497,55.1 498,54.7 499,55.6 500,56.3 501,55.9 502,54.7 503,55 504,55.9 505,54.5 506,54.4 507,55 508,54 509,53.9 510,53.6 511,54.3 512,54 513,54.7 514,54.3 515,55.6 516,55.1 517,53.3 518,54.6 519,54.3 520,55.9 521,54.9 522,54.3 523,54.4 524,54 525,54.4 526,54.6 527,54.5 528,54.6 529,54.1 530,54.8 531,53.6 532,54.5 533,54.8 534,54.7 535,54.3 536,56.5 537,55.2 538,54.5 539,56.2 540,59.9 541,60.8 542,62.8 543,62.6 544,64.8 545,66 546,67.6 547,68 548,68.4 549,70.2 550,70 551,71.3 552,73.2 553,72.7 554,75.4 555,76 556,76.3 557,77.7 558,78.9 559,78.8 560,79.4 561,80.7 562,81.4 563,81.4 564,80.8 565,81.1 566,82.2 567,83.4 568,84.1 569,84.3 570,85.1 571,84.4 572,84 573,84.7 574,85.8 575,83.6 576,85.4 577,85.7 578,86.5 579,88.5 580,88.4 581,88.1 582,87 583,87.4 584,86.8 585,86.8 586,86.8 587,86 588,86.8 589,88.1 590,87.8 591,86.9 592,85.1 593,87.4 594,88 595,87.2 596,87.1 597,87.7 598,87.5 599,88.3 600,87.3 601,87.4 602,87.9 603,87.2 604,88.5 605,88.8 606,87.6 607,88.3 608,87.6 609,88 610,87.8 611,87.2 612,86.8 613,86.4 614,87.7 615,88.8 616,90.2 617,89.6 618,87.9 619,88.9 620,88.2 621,88 622,89.2 623,89.5 624,88.7 625,89.1 626,89.5 627,88.1 628,88.1 629,88.4 630,88 631,88.2 632,89.1 633,90.2 634,89.9 635,88.9 636,90.1 637,89.9 638,90.1 639,90.2 640,88.7 641,88.5 642,88.1 643,88.3 644,90.7 645,89.4 646,87.8 647,89.3 648,89 649,89.2 650,88.7 651,88.8 652,88.9 653,88.6 654,88.2 655,88.6 656,88.7 657,88.9 658,87.7"/>
<polyline points="401,90.3 402,89.3 403,91.1 404,90.2 405,88.9 406,89.1 407,89.3 408,90.4 409,90.9 410,90 411,90.1 412,88 413,86.6 414,88.7 415,90 416,90 417,89.5 418,90.9 419,91.9 420,90.1 421,89.1 422,89 423,91.2 424,89.9 425,90.4 426,91.1 427,90.7 428,89.3 429,90.7 430,91.1 431,91.2 432,91.1 433,89.7 434,89.6 435,89.3 436,90.1 437,89.2 438,89.9 439,89.1 440,89.9 441,90 442,90 443,90.2 444,90.1 445,89.9 446,88.7 447,91 448,90.1 449,89.7 450,89.5 451,89.8 452,85.7 453,81.6 454,78.8 455,76.3 456,73.8 457,71.6 458,69.1 459,70 460,69.6 461,68.9 462,68 463,66.9 464,66.1 465,66.7 466,66.6 467,64.3 468,65.1 469,65 470,65 471,64.6 472,64.8 473,65.1 474,64.8 475,63.3 476,64.8 477,64.2 478,63.5 479,64.5 480,63.5 481,64.5 482,65.1 483,63.4 484,64.2 485,64 486,63.5 487,62.8 488,64 489,64.3 490,64.5 491,64.3 492,64.8 493,64.2 494,64.2 495,64.9 496,64 497,63.9 498,63.4 499,63.1 500,62.7 501,63.7 502,64.3 503,63.9 504,64.7 505,64.2 506,63.3 507,64.4 508,65.5 509,63.3 510,61.7 511,63.2 512,63.2 513,64.3 514,62.8 515,62.4 516,61.9 517,62.3 518,61.8 519,61.8 520,62.4 521,62.5 522,64.1 523,62.5 524,62.5 525,61.8 526,61.7 527,63.5 528,62 529,63.9 530,62.3 531,63.7 532,65 533,61.5 534,61.1 535,63.4 536,63.2 537,62.1 538,62 539,63 540,65.5 541,67.6 542,67.5 543,69.2 544,71.4 545,72.5 546,72.2 547,73.3 548,73.6 549,74.1 550,75.2 551,75.8 552,75.2 553,75.8 554,77.8 555,79.5 556,80.6 557,80.2 558,81.2 559,82.2 560,82.5 561,82.3 562,83.1 563,84.9 564,83.3 565,83.2 566,82.9 567,84.6 568,84.9 569,86 570,84.9 571,85.5 572,86 573,86.6 574,85 575,87.2 576,86.9 577,86.3 578,86.3 579,86.2 580,85.9 581,84.6 582,86.5 583,87.3 584,86.7 585,87.8 586,89.8 587,89 588,88.7 589,90 590,88.3 591,88.4 592,88.2 593,88.5 594,88.9 595,88.7 596,87.6 597,87.7 598,88 599,87.6 600,87.8 601,86.7 602,87.1 603,87.7 604,87.2 605,88.3 606,88 607,87.7 608,88.1 609,88.2 610,88.8 611,89.3 612,88.8 613,88.8 614,90 615,90.1 616,89.3 617,89.2 618,89.1 619,88.7 620,89.3 621,91.3 622,90.5 623,90.7 624,89.8 625,90.4 626,91.7 627,90.2 628,90.5 629,90.1 630,89.6 631,90.2 632,89.1 633,88.8 634,88.8 635,91.1 636,89.6 637,89.2 638,90.1 639,89 640,88.4 641,87.9 642,88.3 643,88.3 644,88.4 645,88 646,88.1 647,87.7 648,88.3 649,88.3 650,89.7 651,89.3 652,88.6 653,88.2 654,88.8 655,87.8 656,88.6 657,89.1 658,88.1"/>
<polyline points="401,90.1 402,89.8 403,89.8 404,88.9 405,88.7 406,88 407,89.7 408,91 409,90.8 410,91.1 411,91.5 412,91.9 413,90.6 414,88.7 415,88.5 416,90 417,90.1 418,90.4 419,90.3 420,88.9 421,88 422,87.9 423,87.4 424,88.5 425,88.8 426,90.3 427,90.1 428,89.1 429,91 430,91.1 431,89.2 432,90.1 433,90.7 434,90.2 435,91.5 436,90.9 437,91.2 438,90.6 439,90.2 440,90.5 441,90 442,89.8 443,89 444,88.3 445,88.3 446,88.6 447,89.7 448,89.7 449,89.3 450,89.5 451,90.6 452,90.8 453,88.7 454,86.3 455,86.2 456,85.2 457,83.6 458,82.7 459,81.5 460,79.9 461,78.1 462,79.6 463,80.3 464,78.8 465,79.3 466,78.5 467,78.4 468,77.5 469,78.1 470,77.8 471,76.3 472,77.5 473,77.4 474,75.8 475,77.6 476,77.2 477,77.2 478,77.8 479,77.6 480,77.3 481,77.7 482,78.5 483,80.7 484,80.6 485,78 486,77.6 487,78.5 488,78.7 489,77.8 490,78 491,80.4 492,79.5 493,76.5 494,75.7 495,76.6 496,77.5 497,77.9 498,77.1 499,76.4 500,78.1 501,78.8 502,78.1 503,77.7 504,78.7 505,78.4 506,77.5 507,77.4 508,77.2 509,78.8 510,78.3 511,77 512,77.7 513,78.6 514,76 515,77.5 516,78.5 517,76.7 518,77.4 519,77.1 520,77.4 521,75.7 522,76.6 523,77.5 524,78 525,78 526,78.5 527,78.7 528,77.9 529,77.5 530,76.4 531,77.5 532,80 533,79.5 534,78.2 535,78.2 536,78.1 537,77.3 538,78.9 539,78.2 540,79.4 541,80.9 542,79 543,80.1 544,79 545,79.7 546,80.5 547,80.8 548,81.5 549,81.9 550,82.7 551,82.9 552,83.6 553,83.9 554,85 555,84.2 556,85.6 557,85.2 558,85.6 559,86.4 560,85.6 561,84.3 562,85.6 563,83.9 564,85.7 565,86 566,85.5 567,86.7 568,87.2 569,89.1 570,88.3 571,89.9 572,89.7 573,87.8 574,87.5 575,89.4 576,88.3 577,88.3 578,88.2 579,87.2 580,87.6 581,86.6 582,86.1 583,87.1 584,88.7 585,89.2 586,88.2 587,88.2 588,89 589,89.5 590,88.9 591,87.9 592,87.8 593,89.4 594,90.3 595,87.8 596,86.2 597,88.1 598,87.9 599,88.2 600,89.1 601,88.2 602,86.9 603,86.5 604,88.4 605,87.7 606,88.6 607,87.7 608,88.1 609,87.5 610,87.7 611,88.2 612,88.7 613,89.2 614,87.5 615,87.5 616,89.7 617,88.5 618,88.4 619,88.6 620,89.7 621,89.2 622,88.8 623,89.3 624,88.5 625,88.8 626,89.3 627,89.7 628,89.3 629,89.3 630,88.6 631,87.9 632,87.7 633,89.5 634,89.5 635,88.5 636,89.6 637,89.5 638,88.6 639,87.1 640,87.1 641,88.5 642,89.9 643,88.2 644,88.1 645,87.4 646,88.2 647,88 648,86.1 649,85.9 650,88.7 651,88.7 652,88.5 653,90.3 654,90 655,87.8 656,88.9 657,90.1 658,88.9"/>
<polyline points="401,88.2 402,87.4 403,90.3 404,91.1 405,91.2 406,90.2 407,90.8 408,89.9 409,89.4 410,87.9 411,88.5 412,89.1 413,90.2 414,90.9 415,89.1 416,89.8 417,88.9 418,88.1 419,87.5 420,88 421,87.9 422,88.9 423,89.8 424,89.7 425,89.7 426,90.2 427,89.3 428,90.4 429,88.8 430,90.3 431,90.7 432,89.3 433,89 434,90.3 435,89.9 436,90.4 437,90.6 438,89.8 439,89.9 440,90.7 441,89.8 442,88.8 443,89.6 444,89.9 445,89.8 446,89.8 447,89.9 448,89.7 449,88.8 450,89.1 451,90.3 452,90.3 453,91.6 454,91.7 455,93.6 456,94 457,97.3 458,94.7 459,94.5 460,96.9 461,97 462,94.7 463,96.6 464,97.5 465,95.9 466,96.7 467,96.4 468,96.6 469,97.3 470,97.4 471,98.1 472,100.5 473,98.7 474,98.6 475,99.6 476,99.5 477,99.8 478,98.9 479,98.9 480,98.7 481,98.5 482,98.3 483,98.8 484,100.4 485,98.9 486,98.5 487,99.6 488,100.3 489,100.5 490,100.3 491,99.2 492,100.3 493,99.3 494,99.2 495,98.9 496,97.9 497,99.2 498,99 499,98.4 500,99.6 501,101.1 502,99.9 503,100.2 504,99.3 505,98.8 506,98.9 507,100.2 508,101.4 509,100.9 510,100.4 511,101.5 512,100.6 513,100.2 514,100.5 515,99.8 516,99.6 517,100.6 518,98.5 519,99.1 520,98.2 521,98.9 522,98.8 523,98.5 524,97.7 525,99.3 526,99.7 527,99.2 528,99.9 529,100.7 530,99.6 531,100 532,99 533,100.4 534,101.2 535,102.5 536,101.4 537,100.7 538,101.1 539,97.6 540,97.3 541,95.2 542,94.7 543,95.6 544,95 545,95.2 546,93.1 547,93.5 548,92.9 549,92 550,90.6 551,92.3 552,92 553,90.8 554,90.1 555,91 556,92.5 557,91.4 558,90.7 559,91.6 560,91.2 561,91.5 562,92 563,91.8 564,91.6 565,89.9 566,90.5 567,90 568,90.3 569,90 570,89.7 571,90.2 572,91.2 573,89.7 574,89 575,90 576,90.2 577,89 578,88.5 579,88.1 580,88.7 581,90.2 582,90.4 583,89.6 584,89.3 585,89 586,90.2 587,90.8 588,91 589,91.6 590,90.5 591,90.2 592,89.1 593,90.4 594,90.7 595,90.6 596,89.8 597,89.7 598,89.6 599,87.9 600,89.2 601,89.4 602,87.8 603,86.9 604,88.8 605,89.5 606,89.6 607,89.9 608,88.9 609,90.1 610,90.9 611,89.8 612,89.3 613,88.6 614,90.2 615,90.8 616,88.2 617,89.1 618,89.6 619,88.6 620,88.5 621,88 622,88.4 623,89.2 624,89.9 625,89.7 626,90.1 627,89.6 628,88.9 629,91.2 630,90.8 631,89.5 632,90.6 633,89.8 634,89.3 635,89.7 636,87 637,87 638,89.3 639,88.9 640,88.9 641,90.9 642,89.5 643,88.1 644,88.7 645,89.9 646,90.4 647,87.6 648,89 649,89 650,87.8 651,88.7 652,87.5 653,88.5 654,90.1 655,89.6 656,89.3 657,88.9 658,89"/>
<polyline points="401,89.6 402,90.1 403,89.7 404,91.7 405,92 406,90.8 407,90.8 408,91.1 409,89.9 410,89.6 411,91.3 412,91 413,90.5 414,91.2 415,90.1 416,88.4 417,89.5 418,89.8 419,90.9 420,89.8 421,88.7 422,89.2 423,88.7 424,88 425,89.4 426,89.6 427,91.8 428,92.5 429,89.8 430,88.8 431,88.8 432,89.6 433,89.7 434,90 435,90.9 436,89.6 437,88.7 438,89.2 439,91.7 440,92.5 441,89.8 442,88.9 443,90.5 444,90.7 445,90.2 446,89.6 447,89.7 448,89.4 449,89.4 450,91.1 451,90.2 452,90.8 453,94.7 454,96.9 455,100.5 456,103 457,102.8 458,105.7 459,107.8 460,107.4 461,106.8 462,107.8 463,109.2 464,109.2 465,109.9 466,110.9 467,111.4 468,112 469,111.3 470,114.1 471,113.7 472,113.4 473,112.5 474,114.3 475,113.9 476,115 477,114.2 478,112.8 479,113.6 480,115.1 481,114.3 482,113.4 483,113.7 484,113.7 485,113 486,113.8 487,113.5 488,113.7 489,114.7 490,113.9 491,114.8 492,115 493,115.8 494,115.9 495,116.7 496,116.2 497,116.1 498,115.3 499,115.1 500,114.6 501,114.2 502,114.8 503,114.9 504,115.1 505,114.7 506,116 507,115.7 508,116.3 509,116.1 510,116.5 511,115.3 512,114.7 513,113.5 514,114.9 515,114.3 516,115.6 517,116.1 518,113.3 519,114.3 520,115.8 521,117.2 522,116.8 523,116.8 524,116.5 525,116.1 526,116.3 527,115.1 528,113.4 529,113.8 530,114.8 531,114.6 532,115.1 533,114.6 534,114.4 535,115.6 536,115 537,114 538,114.5 539,111.9 540,111.4 541,107.9 542,106.8 543,105 544,101.7 545,102 546,100.2 547,98.9 548,99.3 549,100.6 550,98.2 551,98.2 552,99.5 553,98.8 554,96 555,96.1 556,95.4 557,95.6 558,95.8 559,94.7 560,94.9 561,95.8 562,93.5 563,93.9 564,94.4 565,92.8 566,92.4 567,91.9 568,93 569,92.9 570,93.6 571,93.5 572,92.7 573,92.4 574,92.5 575,91.8 576,91 577,92.3 578,91.9 579,91.3 580,90 581,91.8 582,93.1 583,92.3 584,90.3 585,91 586,91.1 587,91.1 588,90.6 589,90.3 590,89.8 591,90.2 592,89.1 593,89.7 594,90.3 595,89.7 596,89.9 597,88.6 598,89.4 599,89.8 600,90.6 601,89.4 602,90.4 603,88.9 604,89.2 605,90.6 606,90.2 607,88.4 608,88.5 609,90.1 610,88.9 611,89.6 612,89.1 613,89.7 614,90.8 615,90.4 616,89.6 617,88 618,89 619,89.2 620,89.8 621,90.1 622,87.8 623,88.8 624,89.1 625,88.7 626,89.8 627,87.9 628,88.9 629,88.7 630,86.8 631,86.9 632,88.3 633,90 634,90 635,89.6 636,88.7 637,87.2 638,88.6 639,88.5 640,90.2 641,91.1 642,91.4 643,90.1 644,89.3 645,88.1 646,88 647,87.5 648,88.8 649,87.2 650,87.8 651,87.5 652,88.3 653,89.1 654,88.7 655,89.4 656,89.1 657,90.6 658,89.1"/>
<polyline points="401,89.3 402,89.1 403,88.1 404,90.1 405,90.8 406,90.1 407,89 408,88.6 409,88.5 410,88.4 411,88.2 412,88.3 413,89.6 414,90.7 415,90.5 416,89.6 417,89 418,89.7 419,90.3 420,89.6 421,90.3 422,89.7 423,89.7 424,89.6 425,88.9 426,90 427,88.2 428,89.1 429,88.5 430,90.7 431,90.4 432,88.8 433,89 434,89 435,89.5 436,90.6 437,91.4 438,89.1 439,90.4 440,89.3 441,90.4 442,90.7 443,90.3 444,89.7 445,88.9 446,88.6 447,88.9 448,89.7 449,88.4 450,89 451,88.8 452,91.9 453,97 454,102.5 455,106.2 456,107.5 457,107.2 458,109.2 459,109.8 460,112.9 461,115.2 462,115.5 463,116.4 464,116.1 465,115 466,114.9 467,116.8 468,118.2 469,118.4 470,117.4 471,117.9 472,118.1 473,119.5 474,118.4 475,118.5 476,120.1 477,120.1 478,120 479,119.1 480,120.2 481,119.2 482,119.4 483,121.1 484,121.8 485,122.4 486,123.1 487,122.1 488,122.8 489,121 490,121.4 491,120.4 492,121 493,121 494,121.3 495,121.6 496,119.9 497,120.8 498,120.7 499,121.3 500,121.9 501,121.3 502,120.8 503,120.8 504,121.9 505,121.4 506,122.2 507,121.8 508,124.1 509,123 510,124.3 511,123.7 512,123.5 513,122.9 514,123.1 515,123.1 516,124.3 517,123.7 518,124.1 519,124.7 520,123.5 521,124.2 522,123.1 523,122 524,123 525,123.2 526,124.1 527,122.6 528,122.2 529,122.5 530,121.1 531,122.1 532,121.2 533,122.6 534,123.2 535,121.4 536,119.8 537,121.3 538,121.9 539,117.8 540,113.5 541,109.9 542,109.2 543,108.1 544,109.2 545,106.1 546,104.5 547,103.6 548,101.4 549,101.2 550,100.6 551,99.9 552,100 553,101.2 554,100.2 555,98 556,98.3 557,98.7 558,96.9 559,96.6 560,96.3 561,95.9 562,95 563,94.5 564,94.4 565,94.5 566,94 567,95.6 568,94.2 569,93.8 570,93.9 571,93.6 572,93.1 573,92.4 574,91.5 575,91.2 576,91.4 577,92.2 578,91 579,91 580,91.1 581,92 582,92.4 583,90.7 584,91.4 585,90.9 586,90.9 587,91.1 588,90.6 589,91.4 590,91.2 591,90.6 592,91.7 593,91.6 594,90.8 595,88.7 596,88.8 597,88.5 598,90.1 599,90.1 600,87.7 601,89.2 602,89.7 603,90.7 604,89.4 605,88.3 606,89.1 607,88.1 608,88.1 609,89.1 610,89.1 611,89.3 612,88.8 613,91.5 614,91.4 615,89.7 616,87.6 617,86.8 618,87.7 619,88.9 620,91.2 621,91 622,89.6 623,91.1 624,91 625,90.2 626,90.8 627,89.5 628,88.7 629,87.9 630,88.9 631,89.9 632,88 633,88.5 634,89.3 635,87.2 636,89.8 637,88.7 638,89.1 639,89.2 640,86.8 641,87.3 642,90 643,88.8 644,88.8 645,89.4 646,90.3 647,90.3 648,89.2 649,88.9 650,89.2 651,89.4 652,89.9 653,89.5 654,90.2 655,87.8 656,88.8 657,90.3 658,90.1"/>
<polyline points="401,92 402,90.7 403,90.3 404,89.7 405,90.3 406,91 407,90.8 408,89.6 409,89.1 410,89.5 411,91.1 412,90.7 413,90.8 414,90.6 415,90.4 416,89.8 417,88.5 418,89.1 419,89.5 420,89.9 421,89.1 422,89.5 423,90.8 424,89.5 425,90 426,89.7 427,88.6 428,88 429,88.9 430,89 431,89.8 432,88.3 433,89.1 434,89.8 435,89.7 436,90.2 437,90.2 438,87.7 439,88.2 440,88.2 441,89.9 442,89.6 443,90 444,91.6 445,90.5 446,90.8 447,90.9 448,90.4 449,91.7 450,90.9 451,90.4 452,92.5 453,96.6 454,100.1 455,103.3 456,105.2 457,109.2 458,111.4 459,112.2 460,112.8 461,114 462,115.3 463,115.9 464,117.5 465,116.3 466,117.8 467,118.8 468,118.7 469,118.8 470,118 471,118.6 472,120.4 473,121.5 474,120.6 475,121.7 476,122.9 477,123.8 478,122.8 479,122.7 480,123 481,121.9 482,122.3 483,120.9 484,121 485,122.1 486,121.8 487,123 488,123.6 489,122.7 490,122.7 491,123.2 492,123.7 493,124.4 494,124.7 495,123.8 496,123.7 497,123.9 498,124.8 499,124.6 500,126 501,125.4 502,125.6 503,124.2 504,124.5 505,125.8 506,125.5 507,125.6 508,127.1 509,125.6 510,125.2 511,124.5 512,126.6 513,126.3 514,125.1 515,123.5 516,124.6 517,124.3 518,124.6 519,124.7 520,124 521,124.5 522,125 523,124.5 524,124.1 525,123.3 526,123.6 527,123.8 528,125.8 529,125.3 530,123.9 531,124.7 532,123.1 533,122 534,125.9 535,126 536,124.3 537,124.2 538,125.1 539,118.8 540,114.6 541,112.1 542,110.2 543,108.5 544,107.8 545,106.7 546,104.9 547,103.8 548,102 549,103.6 550,101.2 551,101.4 552,101.1 553,101.1 554,100.7 555,100.2 556,97.8 557,97.6 558,97.8 559,97 560,96.4 561,97.9 562,96.1 563,95.8 564,95.5 565,95.2 566,95.2 567,93.9 568,93.7 569,93.4 570,93.7 571,93.3 572,91.4 573,92.8 574,91.7 575,92.1 576,91.3 577,91 578,90.4 579,92.5 580,90.9 581,90.7 582,92.4 583,92.1 584,93.3 585,93.2 586,91.9 587,91 588,90.7 589,88.9 590,90 591,90.2 592,90.1 593,90.3 594,89.7 595,91.5 596,91.8 597,89.9 598,90.8 599,92 600,90.5 601,88.7 602,88.9 603,90.6 604,91.1 605,89 606,89.4 607,89.8 608,89.5 609,89.9 610,89.5 611,89.2 612,90.8 613,88.6 614,88.6 615,89.4 616,88.8 617,88.6 618,89.5 619,88.8 620,90.2 621,90.5 622,89.3 623,89 624,88.7 625,87.1 626,88.3 627,89.2 628,90.2 629,89.2 630,88.5 631,88.2 632,88.4 633,89.2 634,90 635,88.9 636,88.4 637,88.9 638,88.6 639,88.1 640,86.5 641,87 642,87.6 643,89 644,88.9 645,89.7 646,90 647,88.7 648,90.4 649,90.3 650,89.7 651,90.4 652,88.3 653,88.5 654,89.1 655,89 656,88.3 657,87.2 658,88.8"/>
</g>
<path d="M204 134.8 H287 V109" fill="none" stroke="#000" stroke-width="2.4" stroke-linejoin="miter"/>
<text x="246" y="127.2" font-size="13" text-anchor="middle">500 ms</text>
<text x="293" y="127.2" font-size="13">2 %</text>
<path d="M573 134.8 H656 V109" fill="none" stroke="#000" stroke-width="2.4" stroke-linejoin="miter"/>
<text x="614.5" y="127.2" font-size="13" text-anchor="middle">500 ms</text>
<text x="662.2" y="127.2" font-size="13">2 %</text>
<text transform="translate(2.5 20.6) scale(0.97 1)" font-size="24.2" font-weight="bold" stroke="#000" stroke-width="0.7" stroke-linejoin="round" fill="#000">A1</text>
<rect x="19.73" y="17" width="4.84" height="6" fill="#fff"/>
<rect x="28.51" y="17" width="4.90" height="6" fill="#fff"/>
<text transform="translate(352.8 18.8) scale(0.97 1)" font-size="24.2" font-weight="bold" stroke="#000" stroke-width="0.7" stroke-linejoin="round" fill="#000">B1</text>
<rect x="370.03" y="15" width="4.84" height="6" fill="#fff"/>
<rect x="378.81" y="15" width="4.90" height="6" fill="#fff"/>
<text transform="translate(1.6 158.2) scale(0.97 1)" font-size="24.2" font-weight="bold" stroke="#000" stroke-width="0.7" stroke-linejoin="round" fill="#000">A2</text>
<text transform="translate(351 158.8) scale(0.97 1)" font-size="24.2" font-weight="bold" stroke="#000" stroke-width="0.7" stroke-linejoin="round" fill="#000">B2</text>
<text transform="translate(1.3 334.6) scale(0.97 1)" font-size="24.2" font-weight="bold" stroke="#000" stroke-width="0.7" stroke-linejoin="round" fill="#000">A3</text>
<text transform="translate(352.4 335.8) scale(0.97 1)" font-size="24.2" font-weight="bold" stroke="#000" stroke-width="0.7" stroke-linejoin="round" fill="#000">B3</text>
<text x="185.8" y="33.5" font-size="16.3" text-anchor="middle">22°C</text>
<text x="533.3" y="31" font-size="16.3" text-anchor="middle">35°C</text>
<text x="82.8" y="321.3" font-size="16.5" text-anchor="middle">-140</text>
<text x="126.8" y="321.3" font-size="16.5" text-anchor="middle">-100</text>
<text x="170.8" y="321.3" font-size="16.5" text-anchor="middle">-60</text>
<text x="214.8" y="321.3" font-size="16.5" text-anchor="middle">-20</text>
<text x="258" y="321.3" font-size="16.5" text-anchor="middle">20</text>
<text x="302" y="321.3" font-size="16.5" text-anchor="middle">60</text>
<path d="M80.8 297.7 H301.8 M81.5 297.7 V304.3 M125.4 297.7 V304.3 M169.3 297.7 V304.3 M213.2 297.7 V304.3 M257.1 297.7 V304.3 M301 297.7 V304.3" fill="none" stroke="#000" stroke-width="1.5"/>
<text x="195.1" y="341.6" font-size="16.2" text-anchor="middle">membrane voltage (mV)</text>
<text x="58.7" y="196.2" font-size="16.5" text-anchor="end">4</text>
<text x="58.7" y="221.5" font-size="16.5" text-anchor="end">2</text>
<text x="58.7" y="246.8" font-size="16.5" text-anchor="end">0</text>
<text x="58.7" y="272.1" font-size="16.5" text-anchor="end">-2</text>
<text x="58.7" y="297.4" font-size="16.5" text-anchor="end">-4</text>
<path d="M70.7 190.6 V293.2 M70.7 191.3 H63.4 M70.7 216.6 H63.4 M70.7 241.9 H63.4 M70.7 267.2 H63.4 M70.7 292.5 H63.4" fill="none" stroke="#000" stroke-width="1.5"/>
<text transform="translate(28.2 237.3) rotate(-90)" font-size="16.2" text-anchor="middle">ΔR/R (%)</text>
<text x="439.6" y="322.3" font-size="16.5" text-anchor="middle">-140</text>
<text x="483.6" y="322.3" font-size="16.5" text-anchor="middle">-100</text>
<text x="527.6" y="322.3" font-size="16.5" text-anchor="middle">-60</text>
<text x="571.6" y="322.3" font-size="16.5" text-anchor="middle">-20</text>
<text x="614.8" y="322.3" font-size="16.5" text-anchor="middle">20</text>
<text x="658.8" y="322.3" font-size="16.5" text-anchor="middle">60</text>
<path d="M437.6 298.4 H658.5 M438.3 298.4 V305 M482.2 298.4 V305 M526.1 298.4 V305 M570 298.4 V305 M613.9 298.4 V305 M657.8 298.4 V305" fill="none" stroke="#000" stroke-width="1.5"/>
<text x="543" y="341.7" font-size="16.2" text-anchor="middle">membrane voltage (mV)</text>
<text x="415.9" y="196.6" font-size="16.5" text-anchor="end">4</text>
<text x="415.9" y="221.9" font-size="16.5" text-anchor="end">2</text>
<text x="415.9" y="247.2" font-size="16.5" text-anchor="end">0</text>
<text x="415.9" y="272.6" font-size="16.5" text-anchor="end">-2</text>
<text x="415.9" y="297.9" font-size="16.5" text-anchor="end">-4</text>
<path d="M427.2 191 V293.7 M427.2 191.7 H419.9 M427.2 217 H419.9 M427.2 242.3 H419.9 M427.2 267.7 H419.9 M427.2 293 H419.9" fill="none" stroke="#000" stroke-width="1.5"/>
<text transform="translate(383.2 237.8) rotate(-90)" font-size="16.2" text-anchor="middle">ΔR/R (%)</text>
<text x="82.8" y="497.2" font-size="16.5" text-anchor="middle">-140</text>
<text x="126.8" y="497.2" font-size="16.5" text-anchor="middle">-100</text>
<text x="170.8" y="497.2" font-size="16.5" text-anchor="middle">-60</text>
<text x="214.8" y="497.2" font-size="16.5" text-anchor="middle">-20</text>
<text x="258" y="497.2" font-size="16.5" text-anchor="middle">20</text>
<text x="302" y="497.2" font-size="16.5" text-anchor="middle">60</text>
<path d="M80.8 473 H301.8 M81.5 473 V479.6 M125.4 473 V479.6 M169.3 473 V479.6 M213.2 473 V479.6 M257.1 473 V479.6 M301 473 V479.6" fill="none" stroke="#000" stroke-width="1.5"/>
<text x="187.2" y="517.2" font-size="16.2" text-anchor="middle">membrane voltage (mV)</text>
<text x="439.6" y="497.7" font-size="16.5" text-anchor="middle">-140</text>
<text x="483.6" y="497.7" font-size="16.5" text-anchor="middle">-100</text>
<text x="527.6" y="497.7" font-size="16.5" text-anchor="middle">-60</text>
<text x="571.6" y="497.7" font-size="16.5" text-anchor="middle">-20</text>
<text x="614.8" y="497.7" font-size="16.5" text-anchor="middle">20</text>
<text x="658.8" y="497.7" font-size="16.5" text-anchor="middle">60</text>
<path d="M437.6 474 H658.5 M438.3 474 V480.6 M482.2 474 V480.6 M526.1 474 V480.6 M570 474 V480.6 M613.9 474 V480.6 M657.8 474 V480.6" fill="none" stroke="#000" stroke-width="1.5"/>
<text x="535.1" y="518.3" font-size="16.2" text-anchor="middle">membrane voltage (mV)</text>
<text x="61.7" y="377" font-size="16.5" text-anchor="end">300</text>
<text x="61.7" y="408.8" font-size="16.5" text-anchor="end">200</text>
<text x="61.7" y="440.6" font-size="16.5" text-anchor="end">100</text>
<text x="61.7" y="472.4" font-size="16.5" text-anchor="end">0</text>
<path d="M70.7 366.6 V468.5 M70.7 372.4 H63.4 M70.7 404.2 H63.4 M70.7 436 H63.4 M70.7 467.8 H63.4" fill="none" stroke="#000" stroke-width="1.5"/>
<text transform="translate(27.7 412) rotate(-90)" font-size="16.2" text-anchor="middle">time const (ms)</text>
<text x="418.2" y="371.8" font-size="16.5" text-anchor="end">100</text>
<text x="418.2" y="392.1" font-size="16.5" text-anchor="end">80</text>
<text x="418.2" y="412.5" font-size="16.5" text-anchor="end">60</text>
<text x="418.2" y="432.9" font-size="16.5" text-anchor="end">40</text>
<text x="418.2" y="453.2" font-size="16.5" text-anchor="end">20</text>
<text x="418.2" y="473.6" font-size="16.5" text-anchor="end">0</text>
<path d="M427.2 366.8 V469.8 M427.2 367.1 H419.9 M427.2 387.5 H419.9 M427.2 407.9 H419.9 M427.2 428.3 H419.9 M427.2 448.6 H419.9 M427.2 469 H419.9" fill="none" stroke="#000" stroke-width="1.5"/>
<text transform="translate(382.9 412.6) rotate(-90)" font-size="16.2" text-anchor="middle">time const (ms)</text>
<path d="M87.9 281.2 L97 278 M109.4 272.4 L119.5 266.8 M131.2 259.9 L141.6 253.6 M153.1 246.4 L163.5 240.1 M174.8 232.5 L185.8 224.5 M197.8 218.5 L206.7 215.9 M219.7 212 L228.6 209.3 M241.9 207.7 L250.3 208.2 M263.9 208.3 L272.3 207.9" fill="none" stroke="#000" stroke-width="1.6"/>
<g fill="#fff" stroke="#2a2a2a" stroke-width="1.15">
<circle cx="81.5" cy="283.5" r="4.6"/>
<circle cx="103.5" cy="275.7" r="4.6"/>
<circle cx="125.4" cy="263.5" r="4.6"/>
<circle cx="147.3" cy="250" r="4.6"/>
<circle cx="169.3" cy="236.5" r="4.6"/>
<circle cx="191.2" cy="220.5" r="4.6"/>
<circle cx="213.2" cy="213.9" r="4.6"/>
<circle cx="235.1" cy="207.4" r="4.6"/>
<circle cx="257.1" cy="208.5" r="4.6"/>
<circle cx="279" cy="207.7" r="4.6"/>
</g>
<path d="M87.9 280.4 L97 277.3 M109.4 271.8 L119.4 266.4 M131.2 259.6 L141.6 253.3 M153.1 246.1 L163.5 239.6 M174.8 232 L185.8 224 M197.4 217.2 L207 212.8 M219.8 208.3 L228.6 206.2 M241.9 204.3 L250.3 204.2 M263.9 203.8 L272.3 203.6" fill="none" stroke="#777" stroke-width="1.6"/>
<polyline points="81.5,280.4 83.7,279.9 85.9,279.4 88.1,278.9 90.3,278.3 92.5,277.7 94.7,277.1 96.9,276.4 99.1,275.7 101.3,275 103.5,274.2 105.6,273.4 107.8,272.5 110,271.6 112.2,270.6 114.4,269.6 116.6,268.5 118.8,267.4 121,266.3 123.2,265.1 125.4,263.9 127.6,262.6 129.8,261.3 132,259.9 134.2,258.5 136.4,257 138.6,255.5 140.8,254 143,252.5 145.2,250.9 147.3,249.3 149.5,247.7 151.7,246.1 153.9,244.4 156.1,242.8 158.3,241.1 160.5,239.5 162.7,237.8 164.9,236.2 167.1,234.5 169.3,232.9 171.5,231.4 173.7,229.8 175.9,228.3 178.1,226.8 180.3,225.3 182.5,223.9 184.7,222.5 186.9,221.2 189.1,219.9 191.2,218.6 193.4,217.4 195.6,216.3 197.8,215.2 200,214.1 202.2,213.1 204.4,212.1 206.6,211.2 208.8,210.3 211,209.4 213.2,208.6 215.4,207.9 217.6,207.1 219.8,206.5 222,205.8 224.2,205.2 226.4,204.6 228.6,204.1 230.8,203.6 233,203.1 235.1,202.6 237.3,202.2 239.5,201.8 241.7,201.5 243.9,201.1 246.1,200.8 248.3,200.5 250.5,200.2 252.7,199.9 254.9,199.7 257.1,199.4 259.3,199.2 261.5,199 263.7,198.8 265.9,198.6 268.1,198.5 270.3,198.3 272.5,198.2 274.7,198 276.9,197.9 279,197.8 281.2,197.7 283.4,197.6 285.6,197.5 287.8,197.4 290,197.3 292.2,197.2 294.4,197.2 296.6,197.1 298.8,197 301,197" fill="none" stroke="#f00000" stroke-width="1.9"/>
<g fill="#fff" stroke="#2a2a2a" stroke-width="1.15">
<circle cx="81.5" cy="282.7" r="4.6"/>
<circle cx="103.5" cy="275" r="4.6"/>
<circle cx="125.4" cy="263.2" r="4.6"/>
<circle cx="147.3" cy="249.7" r="4.6"/>
<circle cx="169.3" cy="236" r="4.6"/>
<circle cx="191.2" cy="220" r="4.6"/>
<circle cx="213.2" cy="210" r="4.6"/>
<circle cx="235.1" cy="204.5" r="4.6"/>
<circle cx="257.1" cy="204" r="4.6"/>
<circle cx="279" cy="203.4" r="4.6"/>
</g>
<path d="M87.7 279.8 L97.3 275.4 M109.6 269.6 L119.3 264.9 M131.1 258.3 L141.6 251.7 M153.1 244.3 L163.6 237.7 M174.8 230 L185.8 222 M197.3 214.9 L207.2 209.7 M219.9 205.5 L228.4 204.1 M241.9 201.9 L250.4 200.4 M263.8 198.3 L272.3 197" fill="none" stroke="#000" stroke-width="1.6"/>
<g fill="#fff" stroke="#2a2a2a" stroke-width="1.15">
<circle cx="81.5" cy="282.7" r="4.6"/>
<circle cx="103.5" cy="272.5" r="4.6"/>
<circle cx="125.4" cy="262" r="4.6"/>
<circle cx="147.3" cy="248" r="4.6"/>
<circle cx="169.3" cy="234" r="4.6"/>
<circle cx="191.2" cy="218" r="4.6"/>
<circle cx="213.2" cy="206.6" r="4.6"/>
<circle cx="235.1" cy="203" r="4.6"/>
<circle cx="257.1" cy="199.3" r="4.6"/>
<circle cx="279" cy="196" r="4.6"/>
</g>
<path d="M87.9 272.8 L97 269.8 M110 265.6 L118.9 263 M131.1 257.3 L141.7 250.2 M152.9 242.6 L163.7 234.9 M174.8 227 L185.8 219 M196.2 210.3 L208.3 198.6 M220 193.6 L228.4 193.1 M241.9 192.2 L250.3 191.6 M263.9 190.3 L272.3 189.5" fill="none" stroke="#000" stroke-width="1.6"/>
<g fill="#fff" stroke="#2a2a2a" stroke-width="1.15">
<circle cx="81.5" cy="275" r="4.6"/>
<circle cx="103.5" cy="267.6" r="4.6"/>
<circle cx="125.4" cy="261" r="4.6"/>
<circle cx="147.3" cy="246.5" r="4.6"/>
<circle cx="169.3" cy="231" r="4.6"/>
<circle cx="191.2" cy="215" r="4.6"/>
<circle cx="213.2" cy="193.9" r="4.6"/>
<circle cx="235.1" cy="192.8" r="4.6"/>
<circle cx="257.1" cy="191" r="4.6"/>
<circle cx="279" cy="188.8" r="4.6"/>
</g>
<path d="M445 288.3 L453.5 286.9 M466 282.3 L476.4 275.9 M487.7 268.2 L498.7 260.1 M508.8 251.1 L521.4 237.9 M532.5 230.7 L541.7 227.3 M554.7 223.5 L563.4 221.5 M576.8 219.4 L585.2 218.6 M598.7 217.4 L607.1 216.8 M620.7 217 L629.1 217.9" fill="none" stroke="#000" stroke-width="1.6"/>
<g fill="#fff" stroke="#2a2a2a" stroke-width="1.15">
<circle cx="438.3" cy="289.3" r="4.6"/>
<circle cx="460.2" cy="285.9" r="4.6"/>
<circle cx="482.2" cy="272.3" r="4.6"/>
<circle cx="504.1" cy="256" r="4.6"/>
<circle cx="526.1" cy="233" r="4.6"/>
<circle cx="548" cy="225" r="4.6"/>
<circle cx="570" cy="220" r="4.6"/>
<circle cx="592" cy="218" r="4.6"/>
<circle cx="613.9" cy="216.2" r="4.6"/>
<circle cx="635.9" cy="218.7" r="4.6"/>
</g>
<path d="M445 276.6 L453.6 274.9 M466.7 271.4 L475.7 268.4 M487.8 262.4 L498.6 254.9 M508.8 246.1 L521.4 232.9 M532.5 225.7 L541.7 222.3 M554.5 217.8 L563.6 214.7 M576.8 212 L585.2 211.5 M598.7 210.3 L607.1 209.4 M620.4 210.7 L629.4 213.5" fill="none" stroke="#000" stroke-width="1.6"/>
<g fill="#fff" stroke="#2a2a2a" stroke-width="1.15">
<circle cx="438.3" cy="278" r="4.6"/>
<circle cx="460.2" cy="273.5" r="4.6"/>
<circle cx="482.2" cy="266.3" r="4.6"/>
<circle cx="504.1" cy="251" r="4.6"/>
<circle cx="526.1" cy="228" r="4.6"/>
<circle cx="548" cy="220" r="4.6"/>
<circle cx="570" cy="212.5" r="4.6"/>
<circle cx="592" cy="211" r="4.6"/>
<circle cx="613.9" cy="208.7" r="4.6"/>
<circle cx="635.9" cy="215.5" r="4.6"/>
</g>
<path d="M444.6 279.1 L453.9 275.5 M467 272.5 L475.4 272 M487.7 267.5 L498.7 259.3 M508.8 250.4 L521.4 236.9 M531.5 227.9 L542.6 219.6 M554.5 213.5 L563.5 210.7 M576.7 207.6 L585.2 206.1 M598.8 205 L607.1 205 M620.7 205 L629.1 205" fill="none" stroke="#000" stroke-width="1.6"/>
<g fill="#fff" stroke="#2a2a2a" stroke-width="1.15">
<circle cx="438.3" cy="281.6" r="4.6"/>
<circle cx="460.2" cy="273" r="4.6"/>
<circle cx="482.2" cy="271.5" r="4.6"/>
<circle cx="504.1" cy="255.3" r="4.6"/>
<circle cx="526.1" cy="232" r="4.6"/>
<circle cx="548" cy="215.5" r="4.6"/>
<circle cx="570" cy="208.7" r="4.6"/>
<circle cx="592" cy="205" r="4.6"/>
<circle cx="613.9" cy="205" r="4.6"/>
<circle cx="635.9" cy="205" r="4.6"/>
</g>
<path d="M445.1 275.2 L453.5 275.9 M466.4 273.4 L476.1 268.8 M487.8 261.9 L498.6 254.5 M508.8 245.7 L521.4 232.2 M531.7 223.5 L542.4 216.3 M554.6 210.6 L563.5 207.9 M576.7 204.8 L585.3 203.2 M598.7 201.2 L607.1 200.3 M620.6 200.4 L629.1 201.6" fill="none" stroke="#000" stroke-width="1.6"/>
<g fill="#fff" stroke="#2a2a2a" stroke-width="1.15">
<circle cx="438.3" cy="274.7" r="4.6"/>
<circle cx="460.2" cy="276.4" r="4.6"/>
<circle cx="482.2" cy="265.8" r="4.6"/>
<circle cx="504.1" cy="250.6" r="4.6"/>
<circle cx="526.1" cy="227.3" r="4.6"/>
<circle cx="548" cy="212.5" r="4.6"/>
<circle cx="570" cy="206" r="4.6"/>
<circle cx="592" cy="202" r="4.6"/>
<circle cx="613.9" cy="199.5" r="4.6"/>
<circle cx="635.9" cy="202.5" r="4.6"/>
</g>
<path d="M445.1 267 L453.5 266 M467 265.1 L475.4 265.1 M487.8 261.2 L498.5 253.8 M508.8 245 L521.5 231.5 M531.5 222.3 L542.7 213.7 M554.6 207.6 L563.5 204.9 M576.7 201.7 L585.3 200 M598.6 197.2 L607.3 195.2 M620.7 193.5 L629.1 193.2" fill="none" stroke="#000" stroke-width="1.6"/>
<g fill="#fff" stroke="#2a2a2a" stroke-width="1.15">
<circle cx="438.3" cy="267.8" r="4.6"/>
<circle cx="460.2" cy="265.2" r="4.6"/>
<circle cx="482.2" cy="265" r="4.6"/>
<circle cx="504.1" cy="250" r="4.6"/>
<circle cx="526.1" cy="226.5" r="4.6"/>
<circle cx="548" cy="209.5" r="4.6"/>
<circle cx="570" cy="203" r="4.6"/>
<circle cx="592" cy="198.7" r="4.6"/>
<circle cx="613.9" cy="193.7" r="4.6"/>
<circle cx="635.9" cy="193" r="4.6"/>
</g>
<polyline points="438.3,277.4 440.5,277.2 442.7,277.1 444.9,276.9 447.1,276.7 449.3,276.5 451.5,276.3 453.7,276 455.9,275.7 458.1,275.3 460.2,275 462.4,274.6 464.6,274.1 466.8,273.6 469,273 471.2,272.4 473.4,271.7 475.6,271 477.8,270.1 480,269.2 482.2,268.3 484.4,267.2 486.6,266 488.8,264.8 491,263.4 493.2,262 495.4,260.5 497.6,258.8 499.8,257.1 502,255.3 504.1,253.4 506.3,251.4 508.5,249.4 510.7,247.3 512.9,245.2 515.1,243.1 517.3,240.9 519.5,238.8 521.7,236.6 523.9,234.5 526.1,232.5 528.3,230.5 530.5,228.5 532.7,226.7 534.9,224.9 537.1,223.2 539.3,221.6 541.5,220.1 543.7,218.7 545.9,217.4 548,216.2 550.2,215 552.4,214 554.6,213.1 556.8,212.2 559,211.4 561.2,210.7 563.4,210 565.6,209.4 567.8,208.9 570,208.4 572.2,207.9 574.4,207.5 576.6,207.2 578.8,206.9 581,206.6 583.2,206.3 585.4,206.1 587.6,205.9 589.8,205.7 592,205.5 594.1,205.4 596.3,205.2 598.5,205.1 600.7,205 602.9,204.9 605.1,204.8 607.3,204.8 609.5,204.7 611.7,204.6 613.9,204.6 616.1,204.5 618.3,204.5 620.5,204.5 622.7,204.4 624.9,204.4 627.1,204.4 629.3,204.3 631.5,204.3 633.7,204.3 635.9,204.3 638,204.3 640.2,204.3 642.4,204.2 644.6,204.2 646.8,204.2 649,204.2 651.2,204.2 653.4,204.2 655.6,204.2 657.8,204.2" fill="none" stroke="#f00000" stroke-width="1.9"/>
<text x="187.2" y="273" font-size="16.3">V<tspan font-size="7.2" dy="3.2" dx="0.6">1/2</tspan><tspan dy="-3.2" dx="0.9">= -70.7 mV</tspan></text>
<text x="543" y="273.2" font-size="16.3">V<tspan font-size="7.2" dy="3.2" dx="0.6">1/2</tspan><tspan dy="-3.2" dx="0.9">= -68.4 mV</tspan></text>
<path d="M87 434.6 L97.9 427.9 M107.8 429.3 L121 443.7 M131.6 450.6 L141.2 453.9 M153.8 455.1 L162.9 453.9 M175.5 451 L185.1 448 M197.4 443.8 L207.1 440.2 M219.3 440.2 L229 443.8 M241.5 444.4 L250.8 442.1 M263.5 439.6 L272.6 438.4" fill="none" stroke="#000" stroke-width="1.65"/>
<path d="M103.5 424.5 V441 M147.3 456 V461 M169.3 453 V460 M191.2 446 V454" fill="none" stroke="#000" stroke-width="1.6"/>
<g fill="#000" stroke="#000" stroke-width="0.5">
<circle cx="81.5" cy="438" r="4.1"/>
<circle cx="103.5" cy="424.5" r="4.1"/>
<circle cx="125.4" cy="448.5" r="4.1"/>
<circle cx="147.3" cy="456" r="4.1"/>
<circle cx="169.3" cy="453" r="4.1"/>
<circle cx="191.2" cy="446" r="4.1"/>
<circle cx="213.2" cy="438" r="4.1"/>
<circle cx="235.1" cy="446" r="4.1"/>
<circle cx="257.1" cy="440.5" r="4.1"/>
<circle cx="279" cy="437.5" r="4.1"/>
</g>
<path d="M83.7 431.4 L101.3 381.1 M106.4 380.8 L122.4 412.2 M129.7 422.8 L143 437.7 M153.6 444.3 L163 446.9 M175.7 447.5 L184.9 445.7 M197.7 444.6 L206.7 444.9 M219.7 445.2 L228.7 445.5 M241.5 444.2 L250.8 442 M263.4 442 L272.7 444.2" fill="none" stroke="#000" stroke-width="1.65"/>
<path d="M81.5 437.5 V446.8 M125.4 418 V429 M279 445.7 V450" fill="none" stroke="#000" stroke-width="1.6"/>
<g fill="#fff" stroke="#333" stroke-width="1.0">
<circle cx="81.5" cy="437.5" r="4.3"/>
<circle cx="103.5" cy="375" r="4.3"/>
<circle cx="125.4" cy="418" r="4.3"/>
<circle cx="147.3" cy="442.5" r="4.3"/>
<circle cx="169.3" cy="448.7" r="4.3"/>
<circle cx="191.2" cy="444.5" r="4.3"/>
<circle cx="213.2" cy="445" r="4.3"/>
<circle cx="235.1" cy="445.7" r="4.3"/>
<circle cx="257.1" cy="440.5" r="4.3"/>
<circle cx="279" cy="445.7" r="4.3"/>
</g>
<path d="M444.1 385.7 L454.5 380.5 M466.6 376.2 L475.8 374.3 M486.4 378 L500 394.2 M510.5 397.6 L519.8 395.3 M532.6 393.5 L541.6 393.2 M554.5 393.9 L563.6 395.3 M576.4 395 L585.6 393.2 M598 389.7 L607.8 386 M619.9 386.2 L629.9 390.5" fill="none" stroke="#000" stroke-width="1.65"/>
<path d="M482.2 373 V380 M548 393 V401 M570 396.2 V408.7 M635.9 393 V400.5" fill="none" stroke="#000" stroke-width="1.6"/>
<g fill="#fff" stroke="#333" stroke-width="1.0">
<circle cx="438.3" cy="388.7" r="4.3"/>
<circle cx="460.2" cy="377.5" r="4.3"/>
<circle cx="482.2" cy="373" r="4.3"/>
<circle cx="504.1" cy="399.2" r="4.3"/>
<circle cx="526.1" cy="393.7" r="4.3"/>
<circle cx="548" cy="393" r="4.3"/>
<circle cx="570" cy="396.2" r="4.3"/>
<circle cx="592" cy="392" r="4.3"/>
<circle cx="613.9" cy="383.7" r="4.3"/>
<circle cx="635.9" cy="393" r="4.3"/>
</g>
<path d="M443.7 395.9 L454.8 388.6 M465.9 388.2 L476.6 394.3 M487.2 393.4 L499.1 383.6 M509.1 383.7 L521.1 393.8 M530.5 402.8 L543.7 417.2 M553.7 425.2 L564.3 431 M575.7 437.3 L586.2 443.1 M598.4 446.9 L607.4 448 M620.2 450.2 L629.5 452.5" fill="none" stroke="#000" stroke-width="1.65"/>
<path d="M438.3 399.5 V404.5 M460.2 385 V392.5 M482.2 397.5 V407.5 M504.1 379.5 V421.2 M526.1 398 V419.5 M548 422 V430.5" fill="none" stroke="#000" stroke-width="1.6"/>
<g fill="#000" stroke="#000" stroke-width="0.5">
<circle cx="438.3" cy="399.5" r="4.1"/>
<circle cx="460.2" cy="385" r="4.1"/>
<circle cx="482.2" cy="397.5" r="4.1"/>
<circle cx="504.1" cy="379.5" r="4.1"/>
<circle cx="526.1" cy="398" r="4.1"/>
<circle cx="548" cy="422" r="4.1"/>
<circle cx="570" cy="434.2" r="4.1"/>
<circle cx="592" cy="446.2" r="4.1"/>
<circle cx="613.9" cy="448.7" r="4.1"/>
<circle cx="635.9" cy="454" r="4.1"/>
</g>
<g fill="#fff" stroke="#444" stroke-width="1.0">
<circle cx="200.2" cy="372.6" r="4.5"/>
</g>
<g fill="#000" stroke="#000" stroke-width="0.5">
<circle cx="200.3" cy="389.9" r="4.1"/>
</g>
<text x="214" y="377.3" font-size="16">activation</text>
<text x="214" y="395.2" font-size="16">deactivation</text>
<g fill="#000" stroke="#000" stroke-width="0.5">
<circle cx="446.3" cy="436.4" r="4.1"/>
</g>
<g fill="#fff" stroke="#444" stroke-width="1.0">
<circle cx="446.3" cy="454.4" r="4.5"/>
</g>
<text x="457" y="441.6" font-size="16">activation</text>
<text x="457" y="459.2" font-size="16">deactivation</text>
</svg>
</body>
</html>
